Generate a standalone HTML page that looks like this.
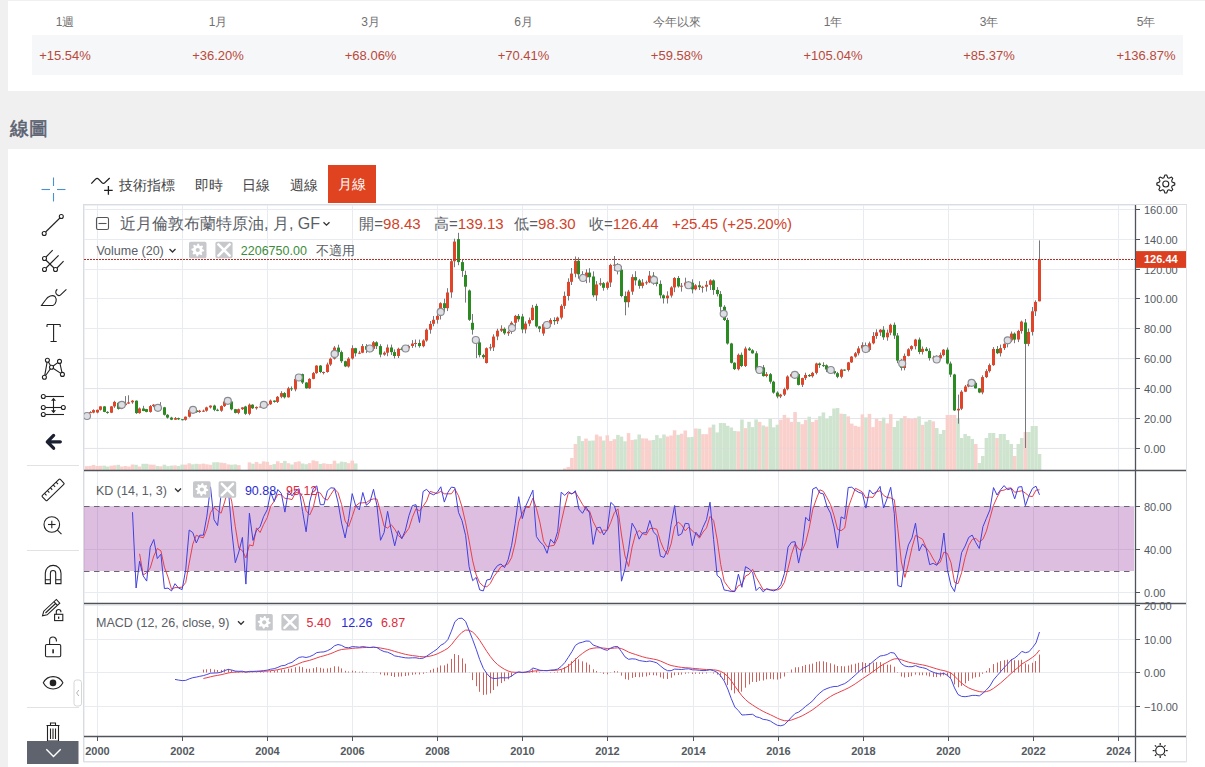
<!DOCTYPE html>
<html><head><meta charset="utf-8">
<style>
*{box-sizing:border-box}
html,body{margin:0;padding:0}
body{width:1205px;height:767px;overflow:hidden;background:#f0f0f0;position:relative;font-family:"Liberation Sans",sans-serif;}
.p1{position:absolute;left:8px;top:1px;width:1197px;height:90px;background:#fff}
.row{position:absolute;left:32px;top:35px;width:1151px;height:40px;background:#f6f7f9}
.h{position:absolute;top:14px;width:120px;margin-left:-60px;text-align:center;font-size:12px;color:#707070;line-height:16px}
.v{position:absolute;top:47px;width:120px;margin-left:-60px;text-align:center;font-size:13px;color:#b9493a;line-height:18px}
.ttl{position:absolute;left:9.5px;top:115.5px;font-size:19px;font-weight:400;color:#5a6170;-webkit-text-stroke:0.55px #5a6170;line-height:26px;letter-spacing:0px}
.p2{position:absolute;left:8px;top:149px;width:1197px;height:618px;background:#fff}
.tb{position:absolute;top:175px;font-size:14px;color:#444;line-height:20px}
.act{position:absolute;left:328px;top:165px;width:48px;height:38px;background:#e0431f;color:#fff;font-size:14px;line-height:38px;text-align:center}
svg{position:absolute;left:0;top:0}
.lg{position:absolute;white-space:nowrap;line-height:20px}
</style></head><body>
<div class="p1"></div>
<div class="row"></div>
<div class="h" style="left:65px">1週</div><div class="v" style="left:65px">+15.54%</div>
<div class="h" style="left:218px">1月</div><div class="v" style="left:218px">+36.20%</div>
<div class="h" style="left:370.6px">3月</div><div class="v" style="left:370.6px">+68.06%</div>
<div class="h" style="left:523.5px">6月</div><div class="v" style="left:523.5px">+70.41%</div>
<div class="h" style="left:676.7px">今年以來</div><div class="v" style="left:676.7px">+59.58%</div>
<div class="h" style="left:833px">1年</div><div class="v" style="left:833px">+105.04%</div>
<div class="h" style="left:989px">3年</div><div class="v" style="left:989px">+85.37%</div>
<div class="h" style="left:1146px">5年</div><div class="v" style="left:1146px">+136.87%</div>

<div class="ttl">線圖</div>
<div class="p2"></div>
<div class="tb" style="left:119px">技術指標</div>
<div class="tb" style="left:195px">即時</div>
<div class="tb" style="left:242px">日線</div>
<div class="tb" style="left:290px">週線</div>
<div class="act">月線</div>
<svg width="1205" height="767" viewBox="0 0 1205 767" shape-rendering="auto">
<rect x="84" y="205" width="1102" height="557" fill="#fff" stroke="#dfe2e8" stroke-width="1"/>
<line x1="97.5" y1="205" x2="97.5" y2="736" stroke="#e8ebf0" stroke-width="1"/>
<line x1="182.5" y1="205" x2="182.5" y2="736" stroke="#e8ebf0" stroke-width="1"/>
<line x1="267.5" y1="205" x2="267.5" y2="736" stroke="#e8ebf0" stroke-width="1"/>
<line x1="352.5" y1="205" x2="352.5" y2="736" stroke="#e8ebf0" stroke-width="1"/>
<line x1="437.5" y1="205" x2="437.5" y2="736" stroke="#e8ebf0" stroke-width="1"/>
<line x1="522.5" y1="205" x2="522.5" y2="736" stroke="#e8ebf0" stroke-width="1"/>
<line x1="607.5" y1="205" x2="607.5" y2="736" stroke="#e8ebf0" stroke-width="1"/>
<line x1="693.5" y1="205" x2="693.5" y2="736" stroke="#e8ebf0" stroke-width="1"/>
<line x1="778.5" y1="205" x2="778.5" y2="736" stroke="#e8ebf0" stroke-width="1"/>
<line x1="863.5" y1="205" x2="863.5" y2="736" stroke="#e8ebf0" stroke-width="1"/>
<line x1="948.5" y1="205" x2="948.5" y2="736" stroke="#e8ebf0" stroke-width="1"/>
<line x1="1033.5" y1="205" x2="1033.5" y2="736" stroke="#e8ebf0" stroke-width="1"/>
<line x1="1118.5" y1="205" x2="1118.5" y2="736" stroke="#e8ebf0" stroke-width="1"/>
<line x1="84" y1="448.5" x2="1135" y2="448.5" stroke="#e8ebf0" stroke-width="1"/>
<line x1="84" y1="418.5" x2="1135" y2="418.5" stroke="#e8ebf0" stroke-width="1"/>
<line x1="84" y1="388.5" x2="1135" y2="388.5" stroke="#e8ebf0" stroke-width="1"/>
<line x1="84" y1="358.5" x2="1135" y2="358.5" stroke="#e8ebf0" stroke-width="1"/>
<line x1="84" y1="328.5" x2="1135" y2="328.5" stroke="#e8ebf0" stroke-width="1"/>
<line x1="84" y1="298.5" x2="1135" y2="298.5" stroke="#e8ebf0" stroke-width="1"/>
<line x1="84" y1="269.5" x2="1135" y2="269.5" stroke="#e8ebf0" stroke-width="1"/>
<line x1="84" y1="239.5" x2="1135" y2="239.5" stroke="#e8ebf0" stroke-width="1"/>
<line x1="84" y1="209.5" x2="1135" y2="209.5" stroke="#e8ebf0" stroke-width="1"/>
<line x1="84" y1="506.5" x2="1135" y2="506.5" stroke="#e8ebf0" stroke-width="1"/>
<line x1="84" y1="549.5" x2="1135" y2="549.5" stroke="#e8ebf0" stroke-width="1"/>
<line x1="84" y1="592.5" x2="1135" y2="592.5" stroke="#e8ebf0" stroke-width="1"/>
<rect x="84" y="506.5" width="1050" height="64.5" fill="rgb(152,52,158)" fill-opacity="0.32"/>
<line x1="84" y1="506.5" x2="1134" y2="506.5" stroke="#6b6472" stroke-width="1" stroke-dasharray="5.5,4.5"/>
<line x1="84" y1="571.5" x2="1134" y2="571.5" stroke="#6b6472" stroke-width="1" stroke-dasharray="5.5,4.5"/>
<line x1="84" y1="605.5" x2="1135" y2="605.5" stroke="#e8ebf0" stroke-width="1"/>
<line x1="84" y1="639.5" x2="1135" y2="639.5" stroke="#e8ebf0" stroke-width="1"/>
<line x1="84" y1="672.5" x2="1135" y2="672.5" stroke="#e8ebf0" stroke-width="1"/>
<line x1="84" y1="706.5" x2="1135" y2="706.5" stroke="#e8ebf0" stroke-width="1"/>
<rect x="84.69" y="466.2" width="3.56" height="3.8" fill="#f9d0cb"/>
<rect x="88.23" y="465.9" width="3.56" height="4.1" fill="#f9d0cb"/>
<rect x="91.78" y="465.0" width="3.56" height="5.0" fill="#f9d0cb"/>
<rect x="95.32" y="466.0" width="3.56" height="4.0" fill="#f9d0cb"/>
<rect x="98.86" y="465.8" width="3.56" height="4.2" fill="#f9d0cb"/>
<rect x="102.41" y="465.6" width="3.56" height="4.4" fill="#cfe4cf"/>
<rect x="105.95" y="466.5" width="3.56" height="3.5" fill="#cfe4cf"/>
<rect x="109.49" y="465.7" width="3.56" height="4.3" fill="#f9d0cb"/>
<rect x="113.03" y="465.3" width="3.56" height="4.7" fill="#f9d0cb"/>
<rect x="116.58" y="464.8" width="3.56" height="5.2" fill="#cfe4cf"/>
<rect x="120.12" y="466.5" width="3.56" height="3.5" fill="#f9d0cb"/>
<rect x="123.66" y="466.0" width="3.56" height="4.0" fill="#f9d0cb"/>
<rect x="127.21" y="466.5" width="3.56" height="3.5" fill="#f9d0cb"/>
<rect x="130.75" y="464.5" width="3.56" height="5.5" fill="#f9d0cb"/>
<rect x="134.29" y="464.8" width="3.56" height="5.2" fill="#cfe4cf"/>
<rect x="137.84" y="466.5" width="3.56" height="3.5" fill="#f9d0cb"/>
<rect x="141.38" y="463.8" width="3.56" height="6.2" fill="#cfe4cf"/>
<rect x="144.92" y="463.8" width="3.56" height="6.2" fill="#cfe4cf"/>
<rect x="148.47" y="464.6" width="3.56" height="5.4" fill="#f9d0cb"/>
<rect x="152.01" y="464.7" width="3.56" height="5.3" fill="#f9d0cb"/>
<rect x="155.55" y="465.9" width="3.56" height="4.1" fill="#cfe4cf"/>
<rect x="159.09" y="466.3" width="3.56" height="3.7" fill="#f9d0cb"/>
<rect x="162.64" y="464.7" width="3.56" height="5.3" fill="#cfe4cf"/>
<rect x="166.18" y="466.1" width="3.56" height="3.9" fill="#cfe4cf"/>
<rect x="169.72" y="465.6" width="3.56" height="4.4" fill="#cfe4cf"/>
<rect x="173.27" y="465.4" width="3.56" height="4.6" fill="#f9d0cb"/>
<rect x="176.81" y="466.0" width="3.56" height="4.0" fill="#cfe4cf"/>
<rect x="180.35" y="464.6" width="3.56" height="5.4" fill="#cfe4cf"/>
<rect x="183.90" y="464.6" width="3.56" height="5.4" fill="#f9d0cb"/>
<rect x="187.44" y="463.3" width="3.56" height="6.7" fill="#f9d0cb"/>
<rect x="190.98" y="464.3" width="3.56" height="5.7" fill="#cfe4cf"/>
<rect x="194.52" y="463.8" width="3.56" height="6.2" fill="#cfe4cf"/>
<rect x="198.07" y="464.2" width="3.56" height="5.8" fill="#f9d0cb"/>
<rect x="201.61" y="463.6" width="3.56" height="6.4" fill="#f9d0cb"/>
<rect x="205.15" y="464.3" width="3.56" height="5.7" fill="#f9d0cb"/>
<rect x="208.70" y="464.8" width="3.56" height="5.2" fill="#f9d0cb"/>
<rect x="212.24" y="462.3" width="3.56" height="7.7" fill="#cfe4cf"/>
<rect x="215.78" y="462.2" width="3.56" height="7.8" fill="#cfe4cf"/>
<rect x="219.33" y="462.7" width="3.56" height="7.3" fill="#f9d0cb"/>
<rect x="222.87" y="463.1" width="3.56" height="6.9" fill="#f9d0cb"/>
<rect x="226.41" y="464.4" width="3.56" height="5.6" fill="#f9d0cb"/>
<rect x="229.95" y="464.7" width="3.56" height="5.3" fill="#cfe4cf"/>
<rect x="233.50" y="464.4" width="3.56" height="5.6" fill="#cfe4cf"/>
<rect x="237.04" y="465.1" width="3.56" height="4.9" fill="#f9d0cb"/>
<rect x="247.67" y="462.4" width="3.56" height="7.6" fill="#f9d0cb"/>
<rect x="251.21" y="463.7" width="3.56" height="6.3" fill="#cfe4cf"/>
<rect x="254.75" y="462.0" width="3.56" height="8.0" fill="#f9d0cb"/>
<rect x="258.30" y="463.7" width="3.56" height="6.3" fill="#f9d0cb"/>
<rect x="261.84" y="461.4" width="3.56" height="8.6" fill="#f9d0cb"/>
<rect x="265.38" y="461.8" width="3.56" height="8.2" fill="#f9d0cb"/>
<rect x="268.93" y="465.0" width="3.56" height="5.0" fill="#f9d0cb"/>
<rect x="272.47" y="464.1" width="3.56" height="5.9" fill="#cfe4cf"/>
<rect x="276.01" y="461.3" width="3.56" height="8.7" fill="#f9d0cb"/>
<rect x="279.56" y="463.0" width="3.56" height="7.0" fill="#f9d0cb"/>
<rect x="283.10" y="460.9" width="3.56" height="9.1" fill="#cfe4cf"/>
<rect x="286.64" y="463.2" width="3.56" height="6.8" fill="#f9d0cb"/>
<rect x="290.19" y="464.5" width="3.56" height="5.5" fill="#cfe4cf"/>
<rect x="293.73" y="462.1" width="3.56" height="7.9" fill="#f9d0cb"/>
<rect x="297.27" y="461.4" width="3.56" height="8.6" fill="#f9d0cb"/>
<rect x="300.81" y="463.5" width="3.56" height="6.5" fill="#cfe4cf"/>
<rect x="304.36" y="464.2" width="3.56" height="5.8" fill="#cfe4cf"/>
<rect x="307.90" y="463.1" width="3.56" height="6.9" fill="#f9d0cb"/>
<rect x="311.44" y="460.4" width="3.56" height="9.6" fill="#f9d0cb"/>
<rect x="314.99" y="461.2" width="3.56" height="8.8" fill="#f9d0cb"/>
<rect x="318.53" y="463.9" width="3.56" height="6.1" fill="#cfe4cf"/>
<rect x="322.07" y="463.3" width="3.56" height="6.7" fill="#f9d0cb"/>
<rect x="325.62" y="463.9" width="3.56" height="6.1" fill="#f9d0cb"/>
<rect x="329.16" y="464.0" width="3.56" height="6.0" fill="#f9d0cb"/>
<rect x="332.70" y="460.7" width="3.56" height="9.3" fill="#f9d0cb"/>
<rect x="336.24" y="463.4" width="3.56" height="6.6" fill="#cfe4cf"/>
<rect x="339.79" y="461.6" width="3.56" height="8.4" fill="#cfe4cf"/>
<rect x="343.33" y="462.1" width="3.56" height="7.9" fill="#cfe4cf"/>
<rect x="346.87" y="463.2" width="3.56" height="6.8" fill="#f9d0cb"/>
<rect x="350.42" y="460.6" width="3.56" height="9.4" fill="#f9d0cb"/>
<rect x="353.96" y="463.4" width="3.56" height="6.6" fill="#cfe4cf"/>
<rect x="563.00" y="468.5" width="3.56" height="1.5" fill="#f9d0cb"/>
<rect x="566.54" y="467.0" width="3.56" height="3.0" fill="#f9d0cb"/>
<rect x="570.08" y="458.0" width="3.56" height="12.0" fill="#f9d0cb"/>
<rect x="573.62" y="444.0" width="3.56" height="26.0" fill="#f9d0cb"/>
<rect x="577.17" y="436.0" width="3.56" height="34.0" fill="#cfe4cf"/>
<rect x="580.71" y="441.1" width="3.56" height="28.9" fill="#cfe4cf"/>
<rect x="584.25" y="438.6" width="3.56" height="31.4" fill="#f9d0cb"/>
<rect x="587.80" y="440.7" width="3.56" height="29.3" fill="#cfe4cf"/>
<rect x="591.34" y="440.5" width="3.56" height="29.5" fill="#cfe4cf"/>
<rect x="594.88" y="434.6" width="3.56" height="35.4" fill="#f9d0cb"/>
<rect x="598.43" y="436.4" width="3.56" height="33.6" fill="#f9d0cb"/>
<rect x="601.97" y="440.5" width="3.56" height="29.5" fill="#cfe4cf"/>
<rect x="605.51" y="435.3" width="3.56" height="34.7" fill="#f9d0cb"/>
<rect x="609.06" y="441.0" width="3.56" height="29.0" fill="#f9d0cb"/>
<rect x="612.60" y="439.2" width="3.56" height="30.8" fill="#f9d0cb"/>
<rect x="616.14" y="434.9" width="3.56" height="35.1" fill="#cfe4cf"/>
<rect x="619.68" y="436.6" width="3.56" height="33.4" fill="#cfe4cf"/>
<rect x="623.23" y="441.3" width="3.56" height="28.7" fill="#cfe4cf"/>
<rect x="626.77" y="433.1" width="3.56" height="36.9" fill="#f9d0cb"/>
<rect x="630.31" y="440.0" width="3.56" height="30.0" fill="#f9d0cb"/>
<rect x="633.86" y="439.4" width="3.56" height="30.6" fill="#cfe4cf"/>
<rect x="637.40" y="434.5" width="3.56" height="35.5" fill="#cfe4cf"/>
<rect x="640.94" y="438.4" width="3.56" height="31.6" fill="#f9d0cb"/>
<rect x="644.49" y="438.5" width="3.56" height="31.5" fill="#f9d0cb"/>
<rect x="648.03" y="440.4" width="3.56" height="29.6" fill="#f9d0cb"/>
<rect x="651.57" y="440.0" width="3.56" height="30.0" fill="#cfe4cf"/>
<rect x="655.11" y="435.1" width="3.56" height="34.9" fill="#cfe4cf"/>
<rect x="658.66" y="438.2" width="3.56" height="31.8" fill="#cfe4cf"/>
<rect x="662.20" y="434.5" width="3.56" height="35.5" fill="#cfe4cf"/>
<rect x="665.74" y="436.5" width="3.56" height="33.5" fill="#f9d0cb"/>
<rect x="669.29" y="435.5" width="3.56" height="34.5" fill="#f9d0cb"/>
<rect x="672.83" y="430.3" width="3.56" height="39.7" fill="#f9d0cb"/>
<rect x="676.37" y="434.8" width="3.56" height="35.2" fill="#cfe4cf"/>
<rect x="679.92" y="433.7" width="3.56" height="36.3" fill="#f9d0cb"/>
<rect x="683.46" y="430.5" width="3.56" height="39.5" fill="#f9d0cb"/>
<rect x="687.00" y="437.2" width="3.56" height="32.8" fill="#cfe4cf"/>
<rect x="690.54" y="436.9" width="3.56" height="33.1" fill="#cfe4cf"/>
<rect x="694.09" y="428.5" width="3.56" height="41.5" fill="#f9d0cb"/>
<rect x="697.63" y="428.7" width="3.56" height="41.3" fill="#cfe4cf"/>
<rect x="701.17" y="434.2" width="3.56" height="35.8" fill="#f9d0cb"/>
<rect x="704.72" y="434.2" width="3.56" height="35.8" fill="#f9d0cb"/>
<rect x="708.26" y="427.5" width="3.56" height="42.5" fill="#f9d0cb"/>
<rect x="711.80" y="424.6" width="3.56" height="45.4" fill="#cfe4cf"/>
<rect x="715.35" y="432.4" width="3.56" height="37.6" fill="#cfe4cf"/>
<rect x="718.89" y="423.0" width="3.56" height="47.0" fill="#cfe4cf"/>
<rect x="722.43" y="423.1" width="3.56" height="46.9" fill="#cfe4cf"/>
<rect x="725.97" y="425.8" width="3.56" height="44.2" fill="#cfe4cf"/>
<rect x="729.52" y="427.5" width="3.56" height="42.5" fill="#cfe4cf"/>
<rect x="733.06" y="431.0" width="3.56" height="39.0" fill="#cfe4cf"/>
<rect x="736.60" y="431.4" width="3.56" height="38.6" fill="#f9d0cb"/>
<rect x="740.15" y="419.5" width="3.56" height="50.5" fill="#cfe4cf"/>
<rect x="743.69" y="428.2" width="3.56" height="41.8" fill="#f9d0cb"/>
<rect x="747.23" y="421.8" width="3.56" height="48.2" fill="#cfe4cf"/>
<rect x="750.78" y="427.1" width="3.56" height="42.9" fill="#cfe4cf"/>
<rect x="754.32" y="419.4" width="3.56" height="50.6" fill="#cfe4cf"/>
<rect x="757.86" y="421.9" width="3.56" height="48.1" fill="#f9d0cb"/>
<rect x="761.40" y="425.4" width="3.56" height="44.6" fill="#cfe4cf"/>
<rect x="764.95" y="426.6" width="3.56" height="43.4" fill="#f9d0cb"/>
<rect x="768.49" y="418.9" width="3.56" height="51.1" fill="#cfe4cf"/>
<rect x="772.03" y="427.3" width="3.56" height="42.7" fill="#cfe4cf"/>
<rect x="775.58" y="424.7" width="3.56" height="45.3" fill="#cfe4cf"/>
<rect x="779.12" y="419.6" width="3.56" height="50.4" fill="#f9d0cb"/>
<rect x="782.66" y="414.9" width="3.56" height="55.1" fill="#f9d0cb"/>
<rect x="786.21" y="417.7" width="3.56" height="52.3" fill="#f9d0cb"/>
<rect x="789.75" y="421.9" width="3.56" height="48.1" fill="#f9d0cb"/>
<rect x="793.29" y="412.1" width="3.56" height="57.9" fill="#f9d0cb"/>
<rect x="796.83" y="421.9" width="3.56" height="48.1" fill="#cfe4cf"/>
<rect x="800.38" y="424.2" width="3.56" height="45.8" fill="#f9d0cb"/>
<rect x="803.92" y="419.9" width="3.56" height="50.1" fill="#f9d0cb"/>
<rect x="807.46" y="416.7" width="3.56" height="53.3" fill="#cfe4cf"/>
<rect x="811.01" y="422.0" width="3.56" height="48.0" fill="#f9d0cb"/>
<rect x="814.55" y="419.7" width="3.56" height="50.3" fill="#f9d0cb"/>
<rect x="818.09" y="416.2" width="3.56" height="53.8" fill="#cfe4cf"/>
<rect x="821.64" y="412.4" width="3.56" height="57.6" fill="#cfe4cf"/>
<rect x="825.18" y="418.9" width="3.56" height="51.1" fill="#cfe4cf"/>
<rect x="828.72" y="415.9" width="3.56" height="54.1" fill="#cfe4cf"/>
<rect x="832.26" y="408.5" width="3.56" height="61.5" fill="#cfe4cf"/>
<rect x="835.81" y="408.0" width="3.56" height="62.0" fill="#cfe4cf"/>
<rect x="839.35" y="413.7" width="3.56" height="56.3" fill="#f9d0cb"/>
<rect x="842.89" y="414.0" width="3.56" height="56.0" fill="#cfe4cf"/>
<rect x="846.44" y="416.4" width="3.56" height="53.6" fill="#f9d0cb"/>
<rect x="849.98" y="423.6" width="3.56" height="46.4" fill="#f9d0cb"/>
<rect x="853.52" y="425.8" width="3.56" height="44.2" fill="#f9d0cb"/>
<rect x="857.07" y="426.7" width="3.56" height="43.3" fill="#f9d0cb"/>
<rect x="860.61" y="414.4" width="3.56" height="55.6" fill="#f9d0cb"/>
<rect x="864.15" y="417.4" width="3.56" height="52.6" fill="#cfe4cf"/>
<rect x="867.69" y="413.9" width="3.56" height="56.1" fill="#f9d0cb"/>
<rect x="871.24" y="427.1" width="3.56" height="42.9" fill="#f9d0cb"/>
<rect x="874.78" y="418.7" width="3.56" height="51.3" fill="#f9d0cb"/>
<rect x="878.32" y="421.0" width="3.56" height="49.0" fill="#f9d0cb"/>
<rect x="881.87" y="417.6" width="3.56" height="52.4" fill="#cfe4cf"/>
<rect x="885.41" y="423.4" width="3.56" height="46.6" fill="#f9d0cb"/>
<rect x="888.95" y="414.2" width="3.56" height="55.8" fill="#f9d0cb"/>
<rect x="892.50" y="427.0" width="3.56" height="43.0" fill="#cfe4cf"/>
<rect x="896.04" y="420.7" width="3.56" height="49.3" fill="#cfe4cf"/>
<rect x="899.58" y="418.2" width="3.56" height="51.8" fill="#cfe4cf"/>
<rect x="903.12" y="416.1" width="3.56" height="53.9" fill="#f9d0cb"/>
<rect x="906.67" y="418.4" width="3.56" height="51.6" fill="#f9d0cb"/>
<rect x="910.21" y="419.0" width="3.56" height="51.0" fill="#f9d0cb"/>
<rect x="913.75" y="417.9" width="3.56" height="52.1" fill="#f9d0cb"/>
<rect x="917.30" y="416.4" width="3.56" height="53.6" fill="#cfe4cf"/>
<rect x="920.84" y="424.9" width="3.56" height="45.1" fill="#f9d0cb"/>
<rect x="924.38" y="421.6" width="3.56" height="48.4" fill="#cfe4cf"/>
<rect x="927.93" y="419.9" width="3.56" height="50.1" fill="#cfe4cf"/>
<rect x="931.47" y="421.4" width="3.56" height="48.6" fill="#f9d0cb"/>
<rect x="935.01" y="428.0" width="3.56" height="42.0" fill="#cfe4cf"/>
<rect x="938.55" y="434.0" width="3.56" height="36.0" fill="#cfe4cf"/>
<rect x="942.10" y="430.0" width="3.56" height="40.0" fill="#cfe4cf"/>
<rect x="945.64" y="415.0" width="3.56" height="55.0" fill="#f9d0cb"/>
<rect x="949.18" y="415.0" width="3.56" height="55.0" fill="#f9d0cb"/>
<rect x="952.73" y="415.0" width="3.56" height="55.0" fill="#f9d0cb"/>
<rect x="956.27" y="418.0" width="3.56" height="52.0" fill="#cfe4cf"/>
<rect x="959.81" y="438.0" width="3.56" height="32.0" fill="#cfe4cf"/>
<rect x="963.36" y="434.0" width="3.56" height="36.0" fill="#cfe4cf"/>
<rect x="966.90" y="436.0" width="3.56" height="34.0" fill="#cfe4cf"/>
<rect x="970.44" y="439.0" width="3.56" height="31.0" fill="#cfe4cf"/>
<rect x="973.98" y="444.0" width="3.56" height="26.0" fill="#f9d0cb"/>
<rect x="977.53" y="463.0" width="3.56" height="7.0" fill="#cfe4cf"/>
<rect x="981.07" y="456.0" width="3.56" height="14.0" fill="#cfe4cf"/>
<rect x="984.61" y="438.0" width="3.56" height="32.0" fill="#cfe4cf"/>
<rect x="988.16" y="433.0" width="3.56" height="37.0" fill="#cfe4cf"/>
<rect x="991.70" y="433.0" width="3.56" height="37.0" fill="#cfe4cf"/>
<rect x="995.24" y="438.0" width="3.56" height="32.0" fill="#f9d0cb"/>
<rect x="998.79" y="434.0" width="3.56" height="36.0" fill="#cfe4cf"/>
<rect x="1002.33" y="434.0" width="3.56" height="36.0" fill="#cfe4cf"/>
<rect x="1005.87" y="440.0" width="3.56" height="30.0" fill="#cfe4cf"/>
<rect x="1009.41" y="444.0" width="3.56" height="26.0" fill="#cfe4cf"/>
<rect x="1012.96" y="456.0" width="3.56" height="14.0" fill="#f9d0cb"/>
<rect x="1016.50" y="444.0" width="3.56" height="26.0" fill="#cfe4cf"/>
<rect x="1020.04" y="438.0" width="3.56" height="32.0" fill="#cfe4cf"/>
<rect x="1023.59" y="432.0" width="3.56" height="38.0" fill="#f9d0cb"/>
<rect x="1027.13" y="432.0" width="3.56" height="38.0" fill="#cfe4cf"/>
<rect x="1030.67" y="426.0" width="3.56" height="44.0" fill="#cfe4cf"/>
<rect x="1034.22" y="426.0" width="3.56" height="44.0" fill="#cfe4cf"/>
<rect x="1037.76" y="454.0" width="3.56" height="16.0" fill="#cfe4cf"/>
<line x1="84" y1="448.4" x2="1135" y2="448.4" stroke="#d8dbe2" stroke-width="1" opacity="0.35"/>
<line x1="84" y1="418.5" x2="1135" y2="418.5" stroke="#d8dbe2" stroke-width="1" opacity="0.35"/>
<line x1="84" y1="388.6" x2="1135" y2="388.6" stroke="#d8dbe2" stroke-width="1" opacity="0.35"/>
<line x1="84" y1="358.7" x2="1135" y2="358.7" stroke="#d8dbe2" stroke-width="1" opacity="0.35"/>
<line x1="86.5" y1="415.2" x2="86.5" y2="416.6" stroke="#76787e" stroke-width="1"/>
<rect x="85" y="415.7" width="3" height="1.0" fill="#e0452a"/>
<line x1="90.5" y1="411.2" x2="90.5" y2="412.7" stroke="#76787e" stroke-width="1"/>
<rect x="89" y="412.1" width="3" height="1.0" fill="#e0452a"/>
<line x1="93.5" y1="409.3" x2="93.5" y2="413.3" stroke="#76787e" stroke-width="1"/>
<rect x="92" y="410.1" width="3" height="2.5" fill="#e0452a"/>
<line x1="97.5" y1="409.6" x2="97.5" y2="413.3" stroke="#76787e" stroke-width="1"/>
<rect x="96" y="409.8" width="3" height="2.7" fill="#e0452a"/>
<line x1="100.5" y1="406.2" x2="100.5" y2="410.6" stroke="#76787e" stroke-width="1"/>
<rect x="99" y="406.4" width="3" height="3.4" fill="#e0452a"/>
<line x1="104.5" y1="406.2" x2="104.5" y2="412.2" stroke="#76787e" stroke-width="1"/>
<rect x="103" y="406.4" width="3" height="5.5" fill="#2b8a22"/>
<line x1="107.5" y1="411.3" x2="107.5" y2="413.7" stroke="#76787e" stroke-width="1"/>
<rect x="106" y="411.9" width="3" height="1.0" fill="#2b8a22"/>
<line x1="111.5" y1="406.1" x2="111.5" y2="413.1" stroke="#76787e" stroke-width="1"/>
<rect x="110" y="406.4" width="3" height="6.3" fill="#e0452a"/>
<line x1="114.5" y1="400.8" x2="114.5" y2="407.9" stroke="#76787e" stroke-width="1"/>
<rect x="113" y="401.9" width="3" height="4.5" fill="#e0452a"/>
<line x1="118.5" y1="401.9" x2="118.5" y2="409.6" stroke="#76787e" stroke-width="1"/>
<rect x="117" y="402.8" width="3" height="6.1" fill="#2b8a22"/>
<line x1="121.5" y1="403.7" x2="121.5" y2="409.2" stroke="#76787e" stroke-width="1"/>
<rect x="120" y="405.2" width="3" height="3.7" fill="#e0452a"/>
<line x1="125.5" y1="396.1" x2="125.5" y2="405.8" stroke="#76787e" stroke-width="1"/>
<rect x="124" y="403.5" width="3" height="1.6" fill="#e0452a"/>
<line x1="128.5" y1="395.3" x2="128.5" y2="403.9" stroke="#76787e" stroke-width="1"/>
<rect x="127" y="402.4" width="3" height="1.2" fill="#e0452a"/>
<line x1="132.5" y1="400.1" x2="132.5" y2="403.8" stroke="#76787e" stroke-width="1"/>
<rect x="131" y="400.7" width="3" height="1.6" fill="#e0452a"/>
<line x1="136.5" y1="400.4" x2="136.5" y2="413.9" stroke="#76787e" stroke-width="1"/>
<rect x="135" y="400.7" width="3" height="12.4" fill="#2b8a22"/>
<line x1="139.5" y1="407.5" x2="139.5" y2="413.7" stroke="#76787e" stroke-width="1"/>
<rect x="138" y="408.5" width="3" height="4.6" fill="#e0452a"/>
<line x1="143.5" y1="405.8" x2="143.5" y2="411.2" stroke="#76787e" stroke-width="1"/>
<rect x="142" y="408.5" width="3" height="2.5" fill="#2b8a22"/>
<line x1="146.5" y1="408.9" x2="146.5" y2="412.3" stroke="#76787e" stroke-width="1"/>
<rect x="145" y="409.1" width="3" height="2.8" fill="#2b8a22"/>
<line x1="150.5" y1="405.0" x2="150.5" y2="412.7" stroke="#76787e" stroke-width="1"/>
<rect x="149" y="406.1" width="3" height="5.8" fill="#e0452a"/>
<line x1="153.5" y1="404.1" x2="153.5" y2="407.1" stroke="#76787e" stroke-width="1"/>
<rect x="152" y="404.7" width="3" height="1.3" fill="#e0452a"/>
<line x1="157.5" y1="404.0" x2="157.5" y2="408.6" stroke="#76787e" stroke-width="1"/>
<rect x="156" y="404.7" width="3" height="3.3" fill="#2b8a22"/>
<line x1="160.5" y1="402.1" x2="160.5" y2="410.3" stroke="#76787e" stroke-width="1"/>
<rect x="159" y="407.3" width="3" height="1.9" fill="#e0452a"/>
<line x1="164.5" y1="406.9" x2="164.5" y2="415.5" stroke="#76787e" stroke-width="1"/>
<rect x="163" y="407.3" width="3" height="7.5" fill="#2b8a22"/>
<line x1="167.5" y1="414.1" x2="167.5" y2="418.6" stroke="#76787e" stroke-width="1"/>
<rect x="166" y="414.8" width="3" height="2.8" fill="#2b8a22"/>
<line x1="171.5" y1="416.8" x2="171.5" y2="420.1" stroke="#76787e" stroke-width="1"/>
<rect x="170" y="417.6" width="3" height="2.1" fill="#2b8a22"/>
<line x1="175.5" y1="417.0" x2="175.5" y2="419.9" stroke="#76787e" stroke-width="1"/>
<rect x="174" y="418.1" width="3" height="1.6" fill="#e0452a"/>
<line x1="178.5" y1="417.6" x2="178.5" y2="420.0" stroke="#76787e" stroke-width="1"/>
<rect x="177" y="418.1" width="3" height="1.2" fill="#2b8a22"/>
<line x1="182.5" y1="419.0" x2="182.5" y2="420.4" stroke="#76787e" stroke-width="1"/>
<rect x="181" y="419.2" width="3" height="1.0" fill="#2b8a22"/>
<line x1="185.5" y1="416.5" x2="185.5" y2="420.6" stroke="#76787e" stroke-width="1"/>
<rect x="184" y="416.7" width="3" height="3.1" fill="#e0452a"/>
<line x1="189.5" y1="408.8" x2="189.5" y2="417.5" stroke="#76787e" stroke-width="1"/>
<rect x="188" y="409.8" width="3" height="6.9" fill="#e0452a"/>
<line x1="192.5" y1="408.6" x2="192.5" y2="410.8" stroke="#76787e" stroke-width="1"/>
<rect x="191" y="409.8" width="3" height="1.0" fill="#2b8a22"/>
<line x1="196.5" y1="409.3" x2="196.5" y2="412.9" stroke="#76787e" stroke-width="1"/>
<rect x="195" y="410.3" width="3" height="1.8" fill="#2b8a22"/>
<line x1="199.5" y1="409.9" x2="199.5" y2="412.8" stroke="#76787e" stroke-width="1"/>
<rect x="198" y="410.7" width="3" height="1.3" fill="#e0452a"/>
<line x1="203.5" y1="409.6" x2="203.5" y2="412.0" stroke="#76787e" stroke-width="1"/>
<rect x="202" y="410.7" width="3" height="1.0" fill="#e0452a"/>
<line x1="206.5" y1="406.7" x2="206.5" y2="411.7" stroke="#76787e" stroke-width="1"/>
<rect x="205" y="407.4" width="3" height="3.3" fill="#e0452a"/>
<line x1="210.5" y1="405.4" x2="210.5" y2="408.5" stroke="#76787e" stroke-width="1"/>
<rect x="209" y="405.6" width="3" height="1.8" fill="#e0452a"/>
<line x1="214.5" y1="404.7" x2="214.5" y2="411.2" stroke="#76787e" stroke-width="1"/>
<rect x="213" y="405.6" width="3" height="4.2" fill="#2b8a22"/>
<line x1="217.5" y1="408.7" x2="217.5" y2="411.2" stroke="#76787e" stroke-width="1"/>
<rect x="216" y="409.8" width="3" height="1.0" fill="#2b8a22"/>
<line x1="221.5" y1="405.4" x2="221.5" y2="411.8" stroke="#76787e" stroke-width="1"/>
<rect x="220" y="406.1" width="3" height="4.6" fill="#e0452a"/>
<line x1="224.5" y1="401.2" x2="224.5" y2="407.0" stroke="#76787e" stroke-width="1"/>
<rect x="223" y="401.5" width="3" height="4.6" fill="#e0452a"/>
<line x1="228.5" y1="401.0" x2="228.5" y2="401.8" stroke="#76787e" stroke-width="1"/>
<rect x="227" y="401.5" width="3" height="1.0" fill="#e0452a"/>
<line x1="231.5" y1="401.2" x2="231.5" y2="410.3" stroke="#76787e" stroke-width="1"/>
<rect x="230" y="401.5" width="3" height="7.8" fill="#2b8a22"/>
<line x1="235.5" y1="408.9" x2="235.5" y2="413.4" stroke="#76787e" stroke-width="1"/>
<rect x="234" y="409.2" width="3" height="3.7" fill="#2b8a22"/>
<line x1="238.5" y1="408.6" x2="238.5" y2="414.2" stroke="#76787e" stroke-width="1"/>
<rect x="237" y="409.2" width="3" height="3.7" fill="#e0452a"/>
<line x1="242.5" y1="407.2" x2="242.5" y2="410.0" stroke="#76787e" stroke-width="1"/>
<rect x="241" y="407.4" width="3" height="1.8" fill="#e0452a"/>
<line x1="245.5" y1="405.8" x2="245.5" y2="414.9" stroke="#76787e" stroke-width="1"/>
<rect x="244" y="406.5" width="3" height="7.3" fill="#2b8a22"/>
<line x1="249.5" y1="403.5" x2="249.5" y2="415.2" stroke="#76787e" stroke-width="1"/>
<rect x="248" y="404.7" width="3" height="9.1" fill="#e0452a"/>
<line x1="252.5" y1="404.2" x2="252.5" y2="409.0" stroke="#76787e" stroke-width="1"/>
<rect x="251" y="404.7" width="3" height="3.6" fill="#2b8a22"/>
<line x1="256.5" y1="406.4" x2="256.5" y2="409.6" stroke="#76787e" stroke-width="1"/>
<rect x="255" y="407.0" width="3" height="1.3" fill="#e0452a"/>
<line x1="260.5" y1="405.1" x2="260.5" y2="407.4" stroke="#76787e" stroke-width="1"/>
<rect x="259" y="406.5" width="3" height="1.0" fill="#e0452a"/>
<line x1="263.5" y1="404.8" x2="263.5" y2="407.0" stroke="#76787e" stroke-width="1"/>
<rect x="262" y="405.2" width="3" height="1.3" fill="#e0452a"/>
<line x1="267.5" y1="403.8" x2="267.5" y2="406.0" stroke="#76787e" stroke-width="1"/>
<rect x="266" y="404.3" width="3" height="1.0" fill="#e0452a"/>
<line x1="270.5" y1="399.5" x2="270.5" y2="404.9" stroke="#76787e" stroke-width="1"/>
<rect x="269" y="400.6" width="3" height="3.7" fill="#e0452a"/>
<line x1="274.5" y1="400.4" x2="274.5" y2="402.7" stroke="#76787e" stroke-width="1"/>
<rect x="273" y="400.6" width="3" height="1.3" fill="#2b8a22"/>
<line x1="277.5" y1="396.0" x2="277.5" y2="403.0" stroke="#76787e" stroke-width="1"/>
<rect x="276" y="396.8" width="3" height="5.1" fill="#e0452a"/>
<line x1="281.5" y1="391.2" x2="281.5" y2="398.2" stroke="#76787e" stroke-width="1"/>
<rect x="280" y="393.1" width="3" height="3.7" fill="#e0452a"/>
<line x1="284.5" y1="392.1" x2="284.5" y2="398.5" stroke="#76787e" stroke-width="1"/>
<rect x="283" y="393.1" width="3" height="4.2" fill="#2b8a22"/>
<line x1="288.5" y1="386.8" x2="288.5" y2="397.6" stroke="#76787e" stroke-width="1"/>
<rect x="287" y="388.3" width="3" height="9.0" fill="#e0452a"/>
<line x1="291.5" y1="386.4" x2="291.5" y2="391.0" stroke="#76787e" stroke-width="1"/>
<rect x="290" y="388.3" width="3" height="1.0" fill="#2b8a22"/>
<line x1="295.5" y1="376.7" x2="295.5" y2="391.3" stroke="#76787e" stroke-width="1"/>
<rect x="294" y="378.9" width="3" height="10.5" fill="#e0452a"/>
<line x1="299.5" y1="376.1" x2="299.5" y2="380.0" stroke="#76787e" stroke-width="1"/>
<rect x="298" y="377.2" width="3" height="1.6" fill="#e0452a"/>
<line x1="302.5" y1="373.6" x2="302.5" y2="384.0" stroke="#76787e" stroke-width="1"/>
<rect x="301" y="374.1" width="3" height="8.4" fill="#2b8a22"/>
<line x1="306.5" y1="382.1" x2="306.5" y2="388.7" stroke="#76787e" stroke-width="1"/>
<rect x="305" y="382.5" width="3" height="5.8" fill="#2b8a22"/>
<line x1="309.5" y1="378.2" x2="309.5" y2="388.9" stroke="#76787e" stroke-width="1"/>
<rect x="308" y="378.9" width="3" height="9.4" fill="#e0452a"/>
<line x1="313.5" y1="372.0" x2="313.5" y2="379.3" stroke="#76787e" stroke-width="1"/>
<rect x="312" y="373.1" width="3" height="5.8" fill="#e0452a"/>
<line x1="316.5" y1="365.2" x2="316.5" y2="373.8" stroke="#76787e" stroke-width="1"/>
<rect x="315" y="365.6" width="3" height="7.5" fill="#e0452a"/>
<line x1="320.5" y1="365.0" x2="320.5" y2="373.2" stroke="#76787e" stroke-width="1"/>
<rect x="319" y="365.6" width="3" height="6.4" fill="#2b8a22"/>
<line x1="323.5" y1="371.6" x2="323.5" y2="374.4" stroke="#76787e" stroke-width="1"/>
<rect x="322" y="372.0" width="3" height="1.0" fill="#e0452a"/>
<line x1="327.5" y1="362.6" x2="327.5" y2="372.7" stroke="#76787e" stroke-width="1"/>
<rect x="326" y="364.5" width="3" height="7.5" fill="#e0452a"/>
<line x1="330.5" y1="357.6" x2="330.5" y2="365.9" stroke="#76787e" stroke-width="1"/>
<rect x="329" y="358.7" width="3" height="5.8" fill="#e0452a"/>
<line x1="334.5" y1="346.1" x2="334.5" y2="359.5" stroke="#76787e" stroke-width="1"/>
<rect x="333" y="347.6" width="3" height="11.1" fill="#e0452a"/>
<line x1="338.5" y1="344.7" x2="338.5" y2="355.5" stroke="#76787e" stroke-width="1"/>
<rect x="337" y="347.6" width="3" height="4.5" fill="#2b8a22"/>
<line x1="341.5" y1="350.5" x2="341.5" y2="362.9" stroke="#76787e" stroke-width="1"/>
<rect x="340" y="352.1" width="3" height="9.1" fill="#2b8a22"/>
<line x1="345.5" y1="360.7" x2="345.5" y2="367.1" stroke="#76787e" stroke-width="1"/>
<rect x="344" y="361.2" width="3" height="5.2" fill="#2b8a22"/>
<line x1="348.5" y1="357.2" x2="348.5" y2="367.6" stroke="#76787e" stroke-width="1"/>
<rect x="347" y="358.6" width="3" height="7.9" fill="#e0452a"/>
<line x1="352.5" y1="345.3" x2="352.5" y2="359.5" stroke="#76787e" stroke-width="1"/>
<rect x="351" y="348.2" width="3" height="10.3" fill="#e0452a"/>
<line x1="355.5" y1="347.8" x2="355.5" y2="356.5" stroke="#76787e" stroke-width="1"/>
<rect x="354" y="348.2" width="3" height="5.1" fill="#2b8a22"/>
<line x1="359.5" y1="350.8" x2="359.5" y2="354.1" stroke="#76787e" stroke-width="1"/>
<rect x="358" y="352.7" width="3" height="1.0" fill="#e0452a"/>
<line x1="362.5" y1="344.0" x2="362.5" y2="353.2" stroke="#76787e" stroke-width="1"/>
<rect x="361" y="346.1" width="3" height="6.6" fill="#e0452a"/>
<line x1="366.5" y1="344.1" x2="366.5" y2="353.1" stroke="#76787e" stroke-width="1"/>
<rect x="365" y="346.1" width="3" height="3.6" fill="#2b8a22"/>
<line x1="369.5" y1="345.8" x2="369.5" y2="352.3" stroke="#76787e" stroke-width="1"/>
<rect x="368" y="348.8" width="3" height="1.0" fill="#e0452a"/>
<line x1="373.5" y1="341.0" x2="373.5" y2="350.5" stroke="#76787e" stroke-width="1"/>
<rect x="372" y="342.3" width="3" height="6.6" fill="#e0452a"/>
<line x1="376.5" y1="341.3" x2="376.5" y2="349.0" stroke="#76787e" stroke-width="1"/>
<rect x="375" y="342.3" width="3" height="3.9" fill="#2b8a22"/>
<line x1="380.5" y1="344.2" x2="380.5" y2="357.3" stroke="#76787e" stroke-width="1"/>
<rect x="379" y="346.1" width="3" height="8.5" fill="#2b8a22"/>
<line x1="384.5" y1="351.4" x2="384.5" y2="355.7" stroke="#76787e" stroke-width="1"/>
<rect x="383" y="352.7" width="3" height="1.9" fill="#e0452a"/>
<line x1="387.5" y1="344.5" x2="387.5" y2="356.2" stroke="#76787e" stroke-width="1"/>
<rect x="386" y="347.5" width="3" height="5.2" fill="#e0452a"/>
<line x1="391.5" y1="344.6" x2="391.5" y2="354.9" stroke="#76787e" stroke-width="1"/>
<rect x="390" y="347.5" width="3" height="4.6" fill="#2b8a22"/>
<line x1="394.5" y1="349.4" x2="394.5" y2="358.5" stroke="#76787e" stroke-width="1"/>
<rect x="393" y="352.1" width="3" height="3.9" fill="#2b8a22"/>
<line x1="398.5" y1="347.7" x2="398.5" y2="358.0" stroke="#76787e" stroke-width="1"/>
<rect x="397" y="348.8" width="3" height="7.2" fill="#e0452a"/>
<line x1="401.5" y1="347.4" x2="401.5" y2="350.2" stroke="#76787e" stroke-width="1"/>
<rect x="400" y="348.8" width="3" height="1.0" fill="#2b8a22"/>
<line x1="405.5" y1="347.9" x2="405.5" y2="351.0" stroke="#76787e" stroke-width="1"/>
<rect x="404" y="348.4" width="3" height="1.3" fill="#e0452a"/>
<line x1="408.5" y1="344.8" x2="408.5" y2="351.0" stroke="#76787e" stroke-width="1"/>
<rect x="407" y="346.0" width="3" height="2.4" fill="#e0452a"/>
<line x1="412.5" y1="340.1" x2="412.5" y2="347.9" stroke="#76787e" stroke-width="1"/>
<rect x="411" y="343.6" width="3" height="2.4" fill="#e0452a"/>
<line x1="415.5" y1="339.5" x2="415.5" y2="347.3" stroke="#76787e" stroke-width="1"/>
<rect x="414" y="343.0" width="3" height="1.0" fill="#e0452a"/>
<line x1="419.5" y1="339.6" x2="419.5" y2="347.7" stroke="#76787e" stroke-width="1"/>
<rect x="418" y="343.0" width="3" height="3.1" fill="#2b8a22"/>
<line x1="423.5" y1="339.3" x2="423.5" y2="347.3" stroke="#76787e" stroke-width="1"/>
<rect x="422" y="340.5" width="3" height="5.7" fill="#e0452a"/>
<line x1="426.5" y1="328.5" x2="426.5" y2="341.7" stroke="#76787e" stroke-width="1"/>
<rect x="425" y="329.7" width="3" height="10.8" fill="#e0452a"/>
<line x1="430.5" y1="321.0" x2="430.5" y2="333.7" stroke="#76787e" stroke-width="1"/>
<rect x="429" y="323.9" width="3" height="5.8" fill="#e0452a"/>
<line x1="433.5" y1="316.0" x2="433.5" y2="326.3" stroke="#76787e" stroke-width="1"/>
<rect x="432" y="319.8" width="3" height="4.0" fill="#e0452a"/>
<line x1="437.5" y1="312.7" x2="437.5" y2="323.6" stroke="#76787e" stroke-width="1"/>
<rect x="436" y="315.9" width="3" height="3.9" fill="#e0452a"/>
<line x1="440.5" y1="302.3" x2="440.5" y2="319.5" stroke="#76787e" stroke-width="1"/>
<rect x="439" y="303.2" width="3" height="12.7" fill="#e0452a"/>
<line x1="444.5" y1="298.7" x2="444.5" y2="312.1" stroke="#76787e" stroke-width="1"/>
<rect x="443" y="303.2" width="3" height="4.9" fill="#2b8a22"/>
<line x1="447.5" y1="288.2" x2="447.5" y2="311.1" stroke="#76787e" stroke-width="1"/>
<rect x="446" y="292.5" width="3" height="15.7" fill="#e0452a"/>
<line x1="451.5" y1="259.4" x2="451.5" y2="297.8" stroke="#76787e" stroke-width="1"/>
<rect x="450" y="261.2" width="3" height="31.2" fill="#e0452a"/>
<line x1="454.5" y1="238.7" x2="454.5" y2="267.2" stroke="#76787e" stroke-width="1"/>
<rect x="453" y="241.6" width="3" height="19.6" fill="#e0452a"/>
<line x1="458.5" y1="232.8" x2="458.5" y2="265.2" stroke="#76787e" stroke-width="1"/>
<rect x="457" y="239.1" width="3" height="23.0" fill="#2b8a22"/>
<line x1="462.5" y1="259.2" x2="462.5" y2="276.9" stroke="#76787e" stroke-width="1"/>
<rect x="461" y="262.1" width="3" height="8.8" fill="#2b8a22"/>
<line x1="465.5" y1="270.7" x2="465.5" y2="302.6" stroke="#76787e" stroke-width="1"/>
<rect x="464" y="275.0" width="3" height="11.7" fill="#2b8a22"/>
<line x1="469.5" y1="289.5" x2="469.5" y2="320.9" stroke="#76787e" stroke-width="1"/>
<rect x="468" y="290.5" width="3" height="29.3" fill="#2b8a22"/>
<line x1="472.5" y1="314.0" x2="472.5" y2="334.6" stroke="#76787e" stroke-width="1"/>
<rect x="471" y="322.8" width="3" height="6.9" fill="#2b8a22"/>
<line x1="476.5" y1="336.8" x2="476.5" y2="358.1" stroke="#76787e" stroke-width="1"/>
<rect x="475" y="337.8" width="3" height="2.7" fill="#2b8a22"/>
<line x1="479.5" y1="339.2" x2="479.5" y2="357.4" stroke="#76787e" stroke-width="1"/>
<rect x="478" y="342.4" width="3" height="12.7" fill="#2b8a22"/>
<line x1="483.5" y1="353.8" x2="483.5" y2="359.1" stroke="#76787e" stroke-width="1"/>
<rect x="482" y="355.1" width="3" height="2.1" fill="#2b8a22"/>
<line x1="486.5" y1="347.4" x2="486.5" y2="363.5" stroke="#76787e" stroke-width="1"/>
<rect x="485" y="348.2" width="3" height="14.8" fill="#e0452a"/>
<line x1="490.5" y1="343.9" x2="490.5" y2="350.7" stroke="#76787e" stroke-width="1"/>
<rect x="489" y="347.3" width="3" height="1.0" fill="#e0452a"/>
<line x1="493.5" y1="334.3" x2="493.5" y2="351.0" stroke="#76787e" stroke-width="1"/>
<rect x="492" y="336.6" width="3" height="10.8" fill="#e0452a"/>
<line x1="497.5" y1="328.7" x2="497.5" y2="340.2" stroke="#76787e" stroke-width="1"/>
<rect x="496" y="330.7" width="3" height="5.8" fill="#e0452a"/>
<line x1="501.5" y1="325.3" x2="501.5" y2="332.0" stroke="#76787e" stroke-width="1"/>
<rect x="500" y="328.8" width="3" height="1.9" fill="#e0452a"/>
<line x1="504.5" y1="327.4" x2="504.5" y2="334.8" stroke="#76787e" stroke-width="1"/>
<rect x="503" y="328.8" width="3" height="4.5" fill="#2b8a22"/>
<line x1="508.5" y1="330.5" x2="508.5" y2="335.9" stroke="#76787e" stroke-width="1"/>
<rect x="507" y="331.8" width="3" height="1.5" fill="#e0452a"/>
<line x1="511.5" y1="321.3" x2="511.5" y2="333.9" stroke="#76787e" stroke-width="1"/>
<rect x="510" y="322.8" width="3" height="9.0" fill="#e0452a"/>
<line x1="515.5" y1="314.9" x2="515.5" y2="327.1" stroke="#76787e" stroke-width="1"/>
<rect x="514" y="315.9" width="3" height="6.9" fill="#e0452a"/>
<line x1="518.5" y1="314.0" x2="518.5" y2="321.7" stroke="#76787e" stroke-width="1"/>
<rect x="517" y="315.9" width="3" height="3.4" fill="#2b8a22"/>
<line x1="522.5" y1="313.9" x2="522.5" y2="333.2" stroke="#76787e" stroke-width="1"/>
<rect x="521" y="316.5" width="3" height="12.9" fill="#2b8a22"/>
<line x1="525.5" y1="321.4" x2="525.5" y2="333.4" stroke="#76787e" stroke-width="1"/>
<rect x="524" y="323.6" width="3" height="5.8" fill="#e0452a"/>
<line x1="529.5" y1="317.5" x2="529.5" y2="326.2" stroke="#76787e" stroke-width="1"/>
<rect x="528" y="320.0" width="3" height="3.6" fill="#e0452a"/>
<line x1="532.5" y1="304.9" x2="532.5" y2="320.6" stroke="#76787e" stroke-width="1"/>
<rect x="531" y="307.7" width="3" height="12.3" fill="#e0452a"/>
<line x1="536.5" y1="303.8" x2="536.5" y2="327.6" stroke="#76787e" stroke-width="1"/>
<rect x="535" y="305.9" width="3" height="20.5" fill="#2b8a22"/>
<line x1="539.5" y1="325.9" x2="539.5" y2="332.2" stroke="#76787e" stroke-width="1"/>
<rect x="538" y="326.4" width="3" height="2.4" fill="#2b8a22"/>
<line x1="543.5" y1="323.0" x2="543.5" y2="335.8" stroke="#76787e" stroke-width="1"/>
<rect x="542" y="324.2" width="3" height="9.3" fill="#e0452a"/>
<line x1="547.5" y1="320.9" x2="547.5" y2="326.8" stroke="#76787e" stroke-width="1"/>
<rect x="546" y="324.2" width="3" height="1.0" fill="#e0452a"/>
<line x1="550.5" y1="318.2" x2="550.5" y2="326.7" stroke="#76787e" stroke-width="1"/>
<rect x="549" y="320.0" width="3" height="4.2" fill="#e0452a"/>
<line x1="554.5" y1="317.3" x2="554.5" y2="324.8" stroke="#76787e" stroke-width="1"/>
<rect x="553" y="320.0" width="3" height="1.2" fill="#2b8a22"/>
<line x1="557.5" y1="316.6" x2="557.5" y2="324.0" stroke="#76787e" stroke-width="1"/>
<rect x="556" y="317.6" width="3" height="3.6" fill="#e0452a"/>
<line x1="561.5" y1="304.3" x2="561.5" y2="319.4" stroke="#76787e" stroke-width="1"/>
<rect x="560" y="305.9" width="3" height="11.7" fill="#e0452a"/>
<line x1="564.5" y1="291.6" x2="564.5" y2="308.9" stroke="#76787e" stroke-width="1"/>
<rect x="563" y="295.9" width="3" height="10.0" fill="#e0452a"/>
<line x1="568.5" y1="278.3" x2="568.5" y2="300.5" stroke="#76787e" stroke-width="1"/>
<rect x="567" y="281.9" width="3" height="14.1" fill="#e0452a"/>
<line x1="571.5" y1="268.0" x2="571.5" y2="285.0" stroke="#76787e" stroke-width="1"/>
<rect x="570" y="273.6" width="3" height="8.2" fill="#e0452a"/>
<line x1="575.5" y1="256.5" x2="575.5" y2="277.3" stroke="#76787e" stroke-width="1"/>
<rect x="574" y="260.8" width="3" height="12.9" fill="#e0452a"/>
<line x1="578.5" y1="257.3" x2="578.5" y2="278.7" stroke="#76787e" stroke-width="1"/>
<rect x="577" y="260.8" width="3" height="13.5" fill="#2b8a22"/>
<line x1="582.5" y1="271.2" x2="582.5" y2="280.9" stroke="#76787e" stroke-width="1"/>
<rect x="581" y="274.2" width="3" height="3.1" fill="#2b8a22"/>
<line x1="586.5" y1="269.3" x2="586.5" y2="283.2" stroke="#76787e" stroke-width="1"/>
<rect x="585" y="272.6" width="3" height="4.8" fill="#e0452a"/>
<line x1="589.5" y1="268.2" x2="589.5" y2="282.6" stroke="#76787e" stroke-width="1"/>
<rect x="588" y="272.6" width="3" height="4.6" fill="#2b8a22"/>
<line x1="593.5" y1="271.4" x2="593.5" y2="297.2" stroke="#76787e" stroke-width="1"/>
<rect x="592" y="276.5" width="3" height="18.8" fill="#2b8a22"/>
<line x1="596.5" y1="281.1" x2="596.5" y2="300.8" stroke="#76787e" stroke-width="1"/>
<rect x="595" y="284.5" width="3" height="10.8" fill="#e0452a"/>
<line x1="600.5" y1="278.2" x2="600.5" y2="285.9" stroke="#76787e" stroke-width="1"/>
<rect x="599" y="283.2" width="3" height="1.3" fill="#e0452a"/>
<line x1="603.5" y1="282.0" x2="603.5" y2="290.7" stroke="#76787e" stroke-width="1"/>
<rect x="602" y="283.2" width="3" height="4.6" fill="#2b8a22"/>
<line x1="607.5" y1="281.4" x2="607.5" y2="289.7" stroke="#76787e" stroke-width="1"/>
<rect x="606" y="282.5" width="3" height="5.4" fill="#e0452a"/>
<line x1="610.5" y1="263.8" x2="610.5" y2="287.0" stroke="#76787e" stroke-width="1"/>
<rect x="609" y="265.0" width="3" height="17.5" fill="#e0452a"/>
<line x1="614.5" y1="256.0" x2="614.5" y2="270.8" stroke="#76787e" stroke-width="1"/>
<rect x="613" y="264.7" width="3" height="1.0" fill="#e0452a"/>
<line x1="617.5" y1="263.1" x2="617.5" y2="274.4" stroke="#76787e" stroke-width="1"/>
<rect x="616" y="264.7" width="3" height="5.1" fill="#2b8a22"/>
<line x1="621.5" y1="266.0" x2="621.5" y2="297.3" stroke="#76787e" stroke-width="1"/>
<rect x="620" y="269.7" width="3" height="26.3" fill="#2b8a22"/>
<line x1="625.5" y1="291.5" x2="625.5" y2="315.3" stroke="#76787e" stroke-width="1"/>
<rect x="624" y="296.1" width="3" height="6.1" fill="#2b8a22"/>
<line x1="628.5" y1="289.9" x2="628.5" y2="307.4" stroke="#76787e" stroke-width="1"/>
<rect x="627" y="291.6" width="3" height="10.6" fill="#e0452a"/>
<line x1="632.5" y1="274.3" x2="632.5" y2="294.8" stroke="#76787e" stroke-width="1"/>
<rect x="631" y="277.1" width="3" height="14.5" fill="#e0452a"/>
<line x1="635.5" y1="271.2" x2="635.5" y2="285.4" stroke="#76787e" stroke-width="1"/>
<rect x="634" y="277.1" width="3" height="3.3" fill="#2b8a22"/>
<line x1="639.5" y1="278.9" x2="639.5" y2="288.7" stroke="#76787e" stroke-width="1"/>
<rect x="638" y="280.4" width="3" height="5.5" fill="#2b8a22"/>
<line x1="642.5" y1="279.1" x2="642.5" y2="288.3" stroke="#76787e" stroke-width="1"/>
<rect x="641" y="282.5" width="3" height="3.4" fill="#e0452a"/>
<line x1="646.5" y1="280.6" x2="646.5" y2="284.8" stroke="#76787e" stroke-width="1"/>
<rect x="645" y="282.3" width="3" height="1.0" fill="#e0452a"/>
<line x1="649.5" y1="271.0" x2="649.5" y2="283.1" stroke="#76787e" stroke-width="1"/>
<rect x="648" y="275.6" width="3" height="6.7" fill="#e0452a"/>
<line x1="653.5" y1="272.1" x2="653.5" y2="284.8" stroke="#76787e" stroke-width="1"/>
<rect x="652" y="275.6" width="3" height="6.3" fill="#2b8a22"/>
<line x1="656.5" y1="281.1" x2="656.5" y2="286.3" stroke="#76787e" stroke-width="1"/>
<rect x="655" y="281.9" width="3" height="2.1" fill="#2b8a22"/>
<line x1="660.5" y1="280.4" x2="660.5" y2="298.4" stroke="#76787e" stroke-width="1"/>
<rect x="659" y="283.9" width="3" height="11.4" fill="#2b8a22"/>
<line x1="663.5" y1="294.4" x2="663.5" y2="303.5" stroke="#76787e" stroke-width="1"/>
<rect x="662" y="295.3" width="3" height="3.0" fill="#2b8a22"/>
<line x1="667.5" y1="291.3" x2="667.5" y2="303.5" stroke="#76787e" stroke-width="1"/>
<rect x="666" y="295.6" width="3" height="2.7" fill="#e0452a"/>
<line x1="671.5" y1="286.2" x2="671.5" y2="297.6" stroke="#76787e" stroke-width="1"/>
<rect x="670" y="287.4" width="3" height="8.2" fill="#e0452a"/>
<line x1="674.5" y1="277.1" x2="674.5" y2="292.2" stroke="#76787e" stroke-width="1"/>
<rect x="673" y="278.0" width="3" height="9.4" fill="#e0452a"/>
<line x1="678.5" y1="276.0" x2="678.5" y2="287.6" stroke="#76787e" stroke-width="1"/>
<rect x="677" y="278.0" width="3" height="8.4" fill="#2b8a22"/>
<line x1="681.5" y1="283.0" x2="681.5" y2="291.6" stroke="#76787e" stroke-width="1"/>
<rect x="680" y="285.7" width="3" height="1.0" fill="#e0452a"/>
<line x1="685.5" y1="277.7" x2="685.5" y2="287.7" stroke="#76787e" stroke-width="1"/>
<rect x="684" y="282.6" width="3" height="3.1" fill="#e0452a"/>
<line x1="688.5" y1="281.2" x2="688.5" y2="288.1" stroke="#76787e" stroke-width="1"/>
<rect x="687" y="282.6" width="3" height="1.0" fill="#2b8a22"/>
<line x1="692.5" y1="279.3" x2="692.5" y2="293.4" stroke="#76787e" stroke-width="1"/>
<rect x="691" y="282.8" width="3" height="6.6" fill="#2b8a22"/>
<line x1="695.5" y1="284.2" x2="695.5" y2="290.3" stroke="#76787e" stroke-width="1"/>
<rect x="694" y="285.3" width="3" height="4.0" fill="#e0452a"/>
<line x1="699.5" y1="281.2" x2="699.5" y2="290.0" stroke="#76787e" stroke-width="1"/>
<rect x="698" y="285.3" width="3" height="1.9" fill="#2b8a22"/>
<line x1="702.5" y1="285.8" x2="702.5" y2="292.6" stroke="#76787e" stroke-width="1"/>
<rect x="701" y="286.8" width="3" height="1.0" fill="#e0452a"/>
<line x1="706.5" y1="281.0" x2="706.5" y2="291.5" stroke="#76787e" stroke-width="1"/>
<rect x="705" y="284.8" width="3" height="1.9" fill="#e0452a"/>
<line x1="710.5" y1="279.3" x2="710.5" y2="290.0" stroke="#76787e" stroke-width="1"/>
<rect x="709" y="280.4" width="3" height="4.5" fill="#e0452a"/>
<line x1="713.5" y1="279.4" x2="713.5" y2="294.8" stroke="#76787e" stroke-width="1"/>
<rect x="712" y="280.4" width="3" height="9.6" fill="#2b8a22"/>
<line x1="717.5" y1="287.1" x2="717.5" y2="296.4" stroke="#76787e" stroke-width="1"/>
<rect x="716" y="289.9" width="3" height="4.2" fill="#2b8a22"/>
<line x1="720.5" y1="291.1" x2="720.5" y2="311.5" stroke="#76787e" stroke-width="1"/>
<rect x="719" y="294.1" width="3" height="12.7" fill="#2b8a22"/>
<line x1="724.5" y1="305.2" x2="724.5" y2="321.0" stroke="#76787e" stroke-width="1"/>
<rect x="723" y="306.8" width="3" height="13.2" fill="#2b8a22"/>
<line x1="727.5" y1="317.8" x2="727.5" y2="344.6" stroke="#76787e" stroke-width="1"/>
<rect x="726" y="320.0" width="3" height="23.5" fill="#2b8a22"/>
<line x1="731.5" y1="342.8" x2="731.5" y2="363.5" stroke="#76787e" stroke-width="1"/>
<rect x="730" y="343.5" width="3" height="19.3" fill="#2b8a22"/>
<line x1="734.5" y1="362.3" x2="734.5" y2="370.0" stroke="#76787e" stroke-width="1"/>
<rect x="733" y="362.7" width="3" height="6.4" fill="#2b8a22"/>
<line x1="738.5" y1="353.5" x2="738.5" y2="370.4" stroke="#76787e" stroke-width="1"/>
<rect x="737" y="354.8" width="3" height="14.4" fill="#e0452a"/>
<line x1="741.5" y1="352.5" x2="741.5" y2="367.1" stroke="#76787e" stroke-width="1"/>
<rect x="740" y="354.8" width="3" height="11.2" fill="#2b8a22"/>
<line x1="745.5" y1="346.6" x2="745.5" y2="367.0" stroke="#76787e" stroke-width="1"/>
<rect x="744" y="348.5" width="3" height="17.5" fill="#e0452a"/>
<line x1="749.5" y1="347.1" x2="749.5" y2="350.8" stroke="#76787e" stroke-width="1"/>
<rect x="748" y="348.5" width="3" height="1.8" fill="#2b8a22"/>
<line x1="752.5" y1="349.2" x2="752.5" y2="353.7" stroke="#76787e" stroke-width="1"/>
<rect x="751" y="350.3" width="3" height="3.0" fill="#2b8a22"/>
<line x1="756.5" y1="351.2" x2="756.5" y2="372.0" stroke="#76787e" stroke-width="1"/>
<rect x="755" y="353.3" width="3" height="17.0" fill="#2b8a22"/>
<line x1="759.5" y1="366.6" x2="759.5" y2="371.9" stroke="#76787e" stroke-width="1"/>
<rect x="758" y="367.4" width="3" height="3.0" fill="#e0452a"/>
<line x1="763.5" y1="365.0" x2="763.5" y2="376.6" stroke="#76787e" stroke-width="1"/>
<rect x="762" y="367.4" width="3" height="8.7" fill="#2b8a22"/>
<line x1="766.5" y1="372.1" x2="766.5" y2="377.3" stroke="#76787e" stroke-width="1"/>
<rect x="765" y="374.2" width="3" height="1.8" fill="#e0452a"/>
<line x1="770.5" y1="373.0" x2="770.5" y2="383.7" stroke="#76787e" stroke-width="1"/>
<rect x="769" y="374.2" width="3" height="7.5" fill="#2b8a22"/>
<line x1="773.5" y1="380.8" x2="773.5" y2="393.7" stroke="#76787e" stroke-width="1"/>
<rect x="772" y="381.7" width="3" height="10.9" fill="#2b8a22"/>
<line x1="777.5" y1="391.3" x2="777.5" y2="398.3" stroke="#76787e" stroke-width="1"/>
<rect x="776" y="392.6" width="3" height="3.9" fill="#2b8a22"/>
<line x1="780.5" y1="393.8" x2="780.5" y2="398.1" stroke="#76787e" stroke-width="1"/>
<rect x="779" y="394.6" width="3" height="1.9" fill="#e0452a"/>
<line x1="784.5" y1="387.7" x2="784.5" y2="396.0" stroke="#76787e" stroke-width="1"/>
<rect x="783" y="389.2" width="3" height="5.4" fill="#e0452a"/>
<line x1="787.5" y1="375.3" x2="787.5" y2="390.3" stroke="#76787e" stroke-width="1"/>
<rect x="786" y="376.5" width="3" height="12.7" fill="#e0452a"/>
<line x1="791.5" y1="373.7" x2="791.5" y2="377.1" stroke="#76787e" stroke-width="1"/>
<rect x="790" y="374.1" width="3" height="2.4" fill="#e0452a"/>
<line x1="795.5" y1="373.6" x2="795.5" y2="376.1" stroke="#76787e" stroke-width="1"/>
<rect x="794" y="374.1" width="3" height="1.0" fill="#e0452a"/>
<line x1="798.5" y1="373.3" x2="798.5" y2="385.4" stroke="#76787e" stroke-width="1"/>
<rect x="797" y="374.1" width="3" height="10.8" fill="#2b8a22"/>
<line x1="802.5" y1="377.7" x2="802.5" y2="387.0" stroke="#76787e" stroke-width="1"/>
<rect x="801" y="378.1" width="3" height="6.7" fill="#e0452a"/>
<line x1="805.5" y1="372.7" x2="805.5" y2="380.0" stroke="#76787e" stroke-width="1"/>
<rect x="804" y="375.0" width="3" height="3.1" fill="#e0452a"/>
<line x1="809.5" y1="374.1" x2="809.5" y2="377.0" stroke="#76787e" stroke-width="1"/>
<rect x="808" y="375.0" width="3" height="1.2" fill="#2b8a22"/>
<line x1="812.5" y1="371.9" x2="812.5" y2="377.6" stroke="#76787e" stroke-width="1"/>
<rect x="811" y="372.9" width="3" height="3.3" fill="#e0452a"/>
<line x1="816.5" y1="362.7" x2="816.5" y2="374.4" stroke="#76787e" stroke-width="1"/>
<rect x="815" y="363.5" width="3" height="9.4" fill="#e0452a"/>
<line x1="819.5" y1="362.5" x2="819.5" y2="367.9" stroke="#76787e" stroke-width="1"/>
<rect x="818" y="363.5" width="3" height="1.6" fill="#2b8a22"/>
<line x1="823.5" y1="362.3" x2="823.5" y2="367.0" stroke="#76787e" stroke-width="1"/>
<rect x="822" y="365.1" width="3" height="1.0" fill="#2b8a22"/>
<line x1="826.5" y1="364.4" x2="826.5" y2="372.1" stroke="#76787e" stroke-width="1"/>
<rect x="825" y="365.3" width="3" height="4.2" fill="#2b8a22"/>
<line x1="830.5" y1="368.4" x2="830.5" y2="372.3" stroke="#76787e" stroke-width="1"/>
<rect x="829" y="369.5" width="3" height="1.6" fill="#2b8a22"/>
<line x1="834.5" y1="370.8" x2="834.5" y2="374.4" stroke="#76787e" stroke-width="1"/>
<rect x="833" y="371.1" width="3" height="2.1" fill="#2b8a22"/>
<line x1="837.5" y1="371.9" x2="837.5" y2="378.2" stroke="#76787e" stroke-width="1"/>
<rect x="836" y="373.2" width="3" height="3.6" fill="#2b8a22"/>
<line x1="841.5" y1="368.8" x2="841.5" y2="378.3" stroke="#76787e" stroke-width="1"/>
<rect x="840" y="369.6" width="3" height="7.2" fill="#e0452a"/>
<line x1="844.5" y1="369.3" x2="844.5" y2="371.0" stroke="#76787e" stroke-width="1"/>
<rect x="843" y="369.6" width="3" height="1.0" fill="#2b8a22"/>
<line x1="848.5" y1="361.9" x2="848.5" y2="371.5" stroke="#76787e" stroke-width="1"/>
<rect x="847" y="362.4" width="3" height="7.6" fill="#e0452a"/>
<line x1="851.5" y1="356.1" x2="851.5" y2="362.9" stroke="#76787e" stroke-width="1"/>
<rect x="850" y="356.6" width="3" height="5.8" fill="#e0452a"/>
<line x1="855.5" y1="352.0" x2="855.5" y2="357.7" stroke="#76787e" stroke-width="1"/>
<rect x="854" y="353.3" width="3" height="3.3" fill="#e0452a"/>
<line x1="858.5" y1="346.2" x2="858.5" y2="355.4" stroke="#76787e" stroke-width="1"/>
<rect x="857" y="348.4" width="3" height="4.9" fill="#e0452a"/>
<line x1="862.5" y1="342.3" x2="862.5" y2="350.9" stroke="#76787e" stroke-width="1"/>
<rect x="861" y="345.1" width="3" height="3.3" fill="#e0452a"/>
<line x1="865.5" y1="342.5" x2="865.5" y2="353.1" stroke="#76787e" stroke-width="1"/>
<rect x="864" y="345.1" width="3" height="4.9" fill="#2b8a22"/>
<line x1="869.5" y1="341.6" x2="869.5" y2="351.5" stroke="#76787e" stroke-width="1"/>
<rect x="868" y="343.3" width="3" height="6.7" fill="#e0452a"/>
<line x1="873.5" y1="332.1" x2="873.5" y2="344.3" stroke="#76787e" stroke-width="1"/>
<rect x="872" y="336.0" width="3" height="7.3" fill="#e0452a"/>
<line x1="876.5" y1="329.3" x2="876.5" y2="338.8" stroke="#76787e" stroke-width="1"/>
<rect x="875" y="332.4" width="3" height="3.6" fill="#e0452a"/>
<line x1="880.5" y1="329.1" x2="880.5" y2="335.9" stroke="#76787e" stroke-width="1"/>
<rect x="879" y="329.7" width="3" height="2.7" fill="#e0452a"/>
<line x1="883.5" y1="326.2" x2="883.5" y2="339.9" stroke="#76787e" stroke-width="1"/>
<rect x="882" y="329.7" width="3" height="7.6" fill="#2b8a22"/>
<line x1="887.5" y1="329.6" x2="887.5" y2="340.7" stroke="#76787e" stroke-width="1"/>
<rect x="886" y="332.7" width="3" height="4.6" fill="#e0452a"/>
<line x1="890.5" y1="323.7" x2="890.5" y2="335.2" stroke="#76787e" stroke-width="1"/>
<rect x="889" y="324.8" width="3" height="7.9" fill="#e0452a"/>
<line x1="894.5" y1="322.5" x2="894.5" y2="338.9" stroke="#76787e" stroke-width="1"/>
<rect x="893" y="324.8" width="3" height="10.8" fill="#2b8a22"/>
<line x1="897.5" y1="333.0" x2="897.5" y2="363.2" stroke="#76787e" stroke-width="1"/>
<rect x="896" y="335.5" width="3" height="25.1" fill="#2b8a22"/>
<line x1="901.5" y1="358.9" x2="901.5" y2="370.5" stroke="#76787e" stroke-width="1"/>
<rect x="900" y="360.6" width="3" height="7.3" fill="#2b8a22"/>
<line x1="904.5" y1="353.5" x2="904.5" y2="370.3" stroke="#76787e" stroke-width="1"/>
<rect x="903" y="355.9" width="3" height="12.1" fill="#e0452a"/>
<line x1="908.5" y1="348.2" x2="908.5" y2="356.4" stroke="#76787e" stroke-width="1"/>
<rect x="907" y="349.3" width="3" height="6.6" fill="#e0452a"/>
<line x1="911.5" y1="345.3" x2="911.5" y2="350.8" stroke="#76787e" stroke-width="1"/>
<rect x="910" y="346.1" width="3" height="3.1" fill="#e0452a"/>
<line x1="915.5" y1="338.8" x2="915.5" y2="349.4" stroke="#76787e" stroke-width="1"/>
<rect x="914" y="339.6" width="3" height="6.6" fill="#e0452a"/>
<line x1="919.5" y1="337.5" x2="919.5" y2="354.2" stroke="#76787e" stroke-width="1"/>
<rect x="918" y="339.6" width="3" height="12.4" fill="#2b8a22"/>
<line x1="922.5" y1="346.5" x2="922.5" y2="354.5" stroke="#76787e" stroke-width="1"/>
<rect x="921" y="348.8" width="3" height="3.1" fill="#e0452a"/>
<line x1="926.5" y1="347.0" x2="926.5" y2="351.3" stroke="#76787e" stroke-width="1"/>
<rect x="925" y="348.8" width="3" height="2.1" fill="#2b8a22"/>
<line x1="929.5" y1="348.3" x2="929.5" y2="360.6" stroke="#76787e" stroke-width="1"/>
<rect x="928" y="350.9" width="3" height="7.2" fill="#2b8a22"/>
<line x1="933.5" y1="355.7" x2="933.5" y2="360.0" stroke="#76787e" stroke-width="1"/>
<rect x="932" y="357.5" width="3" height="1.0" fill="#e0452a"/>
<line x1="936.5" y1="355.3" x2="936.5" y2="358.9" stroke="#76787e" stroke-width="1"/>
<rect x="935" y="357.5" width="3" height="1.0" fill="#2b8a22"/>
<line x1="940.5" y1="352.6" x2="940.5" y2="359.5" stroke="#76787e" stroke-width="1"/>
<rect x="939" y="355.1" width="3" height="3.3" fill="#e0452a"/>
<line x1="943.5" y1="349.1" x2="943.5" y2="356.3" stroke="#76787e" stroke-width="1"/>
<rect x="942" y="349.7" width="3" height="5.4" fill="#e0452a"/>
<line x1="947.5" y1="347.5" x2="947.5" y2="364.4" stroke="#76787e" stroke-width="1"/>
<rect x="946" y="349.7" width="3" height="13.8" fill="#2b8a22"/>
<line x1="950.5" y1="361.5" x2="950.5" y2="377.1" stroke="#76787e" stroke-width="1"/>
<rect x="949" y="363.5" width="3" height="11.1" fill="#2b8a22"/>
<line x1="954.5" y1="373.8" x2="954.5" y2="411.0" stroke="#76787e" stroke-width="1"/>
<rect x="953" y="374.5" width="3" height="35.9" fill="#2b8a22"/>
<line x1="958.5" y1="394.6" x2="958.5" y2="423.7" stroke="#76787e" stroke-width="1"/>
<rect x="957" y="408.8" width="3" height="1.6" fill="#e0452a"/>
<line x1="961.5" y1="390.2" x2="961.5" y2="410.1" stroke="#76787e" stroke-width="1"/>
<rect x="960" y="391.7" width="3" height="17.0" fill="#e0452a"/>
<line x1="965.5" y1="385.0" x2="965.5" y2="392.1" stroke="#76787e" stroke-width="1"/>
<rect x="964" y="386.5" width="3" height="5.2" fill="#e0452a"/>
<line x1="968.5" y1="383.6" x2="968.5" y2="387.3" stroke="#76787e" stroke-width="1"/>
<rect x="967" y="384.1" width="3" height="2.4" fill="#e0452a"/>
<line x1="972.5" y1="381.0" x2="972.5" y2="385.0" stroke="#76787e" stroke-width="1"/>
<rect x="971" y="382.8" width="3" height="1.3" fill="#e0452a"/>
<line x1="975.5" y1="381.5" x2="975.5" y2="388.6" stroke="#76787e" stroke-width="1"/>
<rect x="974" y="382.8" width="3" height="5.5" fill="#2b8a22"/>
<line x1="979.5" y1="388.0" x2="979.5" y2="393.2" stroke="#76787e" stroke-width="1"/>
<rect x="978" y="388.3" width="3" height="4.2" fill="#2b8a22"/>
<line x1="982.5" y1="375.3" x2="982.5" y2="394.3" stroke="#76787e" stroke-width="1"/>
<rect x="981" y="377.1" width="3" height="15.4" fill="#e0452a"/>
<line x1="986.5" y1="369.2" x2="986.5" y2="378.1" stroke="#76787e" stroke-width="1"/>
<rect x="985" y="371.1" width="3" height="6.0" fill="#e0452a"/>
<line x1="989.5" y1="363.5" x2="989.5" y2="372.6" stroke="#76787e" stroke-width="1"/>
<rect x="988" y="365.1" width="3" height="6.0" fill="#e0452a"/>
<line x1="993.5" y1="347.1" x2="993.5" y2="365.9" stroke="#76787e" stroke-width="1"/>
<rect x="992" y="349.0" width="3" height="16.1" fill="#e0452a"/>
<line x1="997.5" y1="346.0" x2="997.5" y2="354.1" stroke="#76787e" stroke-width="1"/>
<rect x="996" y="349.0" width="3" height="4.2" fill="#2b8a22"/>
<line x1="1000.5" y1="344.6" x2="1000.5" y2="356.5" stroke="#76787e" stroke-width="1"/>
<rect x="999" y="348.1" width="3" height="5.1" fill="#e0452a"/>
<line x1="1004.5" y1="343.3" x2="1004.5" y2="350.0" stroke="#76787e" stroke-width="1"/>
<rect x="1003" y="343.8" width="3" height="4.3" fill="#e0452a"/>
<line x1="1007.5" y1="337.3" x2="1007.5" y2="347.4" stroke="#76787e" stroke-width="1"/>
<rect x="1006" y="340.5" width="3" height="3.3" fill="#e0452a"/>
<line x1="1011.5" y1="331.5" x2="1011.5" y2="341.9" stroke="#76787e" stroke-width="1"/>
<rect x="1010" y="333.6" width="3" height="6.9" fill="#e0452a"/>
<line x1="1014.5" y1="332.4" x2="1014.5" y2="343.2" stroke="#76787e" stroke-width="1"/>
<rect x="1013" y="333.6" width="3" height="6.0" fill="#2b8a22"/>
<line x1="1018.5" y1="329.8" x2="1018.5" y2="342.1" stroke="#76787e" stroke-width="1"/>
<rect x="1017" y="331.0" width="3" height="8.5" fill="#e0452a"/>
<line x1="1021.5" y1="320.6" x2="1021.5" y2="333.6" stroke="#76787e" stroke-width="1"/>
<rect x="1020" y="321.6" width="3" height="9.4" fill="#e0452a"/>
<line x1="1025.5" y1="319.0" x2="1025.5" y2="448.0" stroke="#76787e" stroke-width="1"/>
<rect x="1024" y="322.5" width="3" height="21.4" fill="#2b8a22"/>
<line x1="1028.5" y1="328.5" x2="1028.5" y2="346.2" stroke="#76787e" stroke-width="1"/>
<rect x="1027" y="331.9" width="3" height="12.0" fill="#e0452a"/>
<line x1="1032.5" y1="307.0" x2="1032.5" y2="335.5" stroke="#76787e" stroke-width="1"/>
<rect x="1031" y="311.3" width="3" height="20.6" fill="#e0452a"/>
<line x1="1035.5" y1="300.3" x2="1035.5" y2="316.0" stroke="#76787e" stroke-width="1"/>
<rect x="1034" y="301.9" width="3" height="9.4" fill="#e0452a"/>
<line x1="1039.5" y1="240.4" x2="1039.5" y2="301.4" stroke="#76787e" stroke-width="1"/>
<rect x="1038" y="259.4" width="3" height="41.9" fill="#e0452a"/>
<circle cx="87" cy="416" r="3.5" fill="#dedfe4" stroke="#8a8c92" stroke-width="1.15"/>
<circle cx="121.8" cy="404.8" r="3.5" fill="#dedfe4" stroke="#8a8c92" stroke-width="1.15"/>
<circle cx="157.9" cy="407.8" r="3.5" fill="#dedfe4" stroke="#8a8c92" stroke-width="1.15"/>
<circle cx="193" cy="409.8" r="3.5" fill="#dedfe4" stroke="#8a8c92" stroke-width="1.15"/>
<circle cx="227.8" cy="400.8" r="3.5" fill="#dedfe4" stroke="#8a8c92" stroke-width="1.15"/>
<circle cx="263.8" cy="404.8" r="3.5" fill="#dedfe4" stroke="#8a8c92" stroke-width="1.15"/>
<circle cx="298.8" cy="377.5" r="3.5" fill="#dedfe4" stroke="#8a8c92" stroke-width="1.15"/>
<circle cx="334.6" cy="353.9" r="3.5" fill="#dedfe4" stroke="#8a8c92" stroke-width="1.15"/>
<circle cx="369.8" cy="348.5" r="3.5" fill="#dedfe4" stroke="#8a8c92" stroke-width="1.15"/>
<circle cx="405.6" cy="348.5" r="3.5" fill="#dedfe4" stroke="#8a8c92" stroke-width="1.15"/>
<circle cx="440.7" cy="311.9" r="3.5" fill="#dedfe4" stroke="#8a8c92" stroke-width="1.15"/>
<circle cx="475.8" cy="340" r="3.5" fill="#dedfe4" stroke="#8a8c92" stroke-width="1.15"/>
<circle cx="512" cy="328" r="3.5" fill="#dedfe4" stroke="#8a8c92" stroke-width="1.15"/>
<circle cx="546.9" cy="325" r="3.5" fill="#dedfe4" stroke="#8a8c92" stroke-width="1.15"/>
<circle cx="583" cy="278" r="3.5" fill="#dedfe4" stroke="#8a8c92" stroke-width="1.15"/>
<circle cx="617.9" cy="267.7" r="3.5" fill="#dedfe4" stroke="#8a8c92" stroke-width="1.15"/>
<circle cx="654" cy="279.9" r="3.5" fill="#dedfe4" stroke="#8a8c92" stroke-width="1.15"/>
<circle cx="688.5" cy="285.2" r="3.5" fill="#dedfe4" stroke="#8a8c92" stroke-width="1.15"/>
<circle cx="723.7" cy="313.8" r="3.5" fill="#dedfe4" stroke="#8a8c92" stroke-width="1.15"/>
<circle cx="759.5" cy="370" r="3.5" fill="#dedfe4" stroke="#8a8c92" stroke-width="1.15"/>
<circle cx="794.8" cy="374.8" r="3.5" fill="#dedfe4" stroke="#8a8c92" stroke-width="1.15"/>
<circle cx="830.8" cy="370" r="3.5" fill="#dedfe4" stroke="#8a8c92" stroke-width="1.15"/>
<circle cx="865.7" cy="349" r="3.5" fill="#dedfe4" stroke="#8a8c92" stroke-width="1.15"/>
<circle cx="902.2" cy="363.5" r="3.5" fill="#dedfe4" stroke="#8a8c92" stroke-width="1.15"/>
<circle cx="936.7" cy="359.5" r="3.5" fill="#dedfe4" stroke="#8a8c92" stroke-width="1.15"/>
<circle cx="971.6" cy="382.8" r="3.5" fill="#dedfe4" stroke="#8a8c92" stroke-width="1.15"/>
<circle cx="1007.7" cy="340.3" r="3.5" fill="#dedfe4" stroke="#8a8c92" stroke-width="1.15"/>
<line x1="84" y1="259.5" x2="1135" y2="259.5" stroke="#b3302a" stroke-width="1" stroke-dasharray="2,1"/>
<polyline points="139.6,553.8 143.2,575.0 146.7,572.7 150.2,568.1 153.8,556.0 157.3,548.5 160.9,550.8 164.4,567.1 168.0,577.0 171.5,589.2 175.0,587.6 178.6,587.6 182.1,587.1 185.7,582.5 189.2,563.1 192.8,544.1 196.3,535.2 199.8,536.9 203.4,537.8 206.9,528.8 210.5,512.7 214.0,507.5 217.6,510.6 221.1,513.2 224.6,502.0 228.2,489.3 231.7,501.2 235.3,526.7 238.8,548.3 242.4,550.7 245.9,557.9 249.4,544.9 253.0,545.9 256.5,527.9 260.1,532.5 263.6,524.5 267.2,517.7 270.7,506.2 274.2,501.2 277.8,494.4 281.3,494.8 284.9,498.3 288.4,498.7 292.0,499.6 295.5,492.6 299.1,491.9 302.6,497.0 306.1,510.6 309.7,515.0 313.2,507.4 316.8,492.1 320.3,493.0 323.9,498.5 327.4,500.1 330.9,494.4 334.5,488.9 338.0,492.7 341.6,504.5 345.1,521.0 348.7,526.5 352.2,516.7 355.7,506.0 359.3,503.1 362.8,502.8 366.4,502.6 369.9,500.0 373.5,498.9 377.0,499.1 380.5,511.9 384.1,526.2 387.6,528.1 391.2,524.6 394.7,529.1 398.3,535.5 401.8,538.4 405.3,533.3 408.9,528.3 412.4,517.3 416.0,508.7 419.5,510.9 423.1,506.3 426.6,501.1 430.1,491.4 433.7,492.5 437.2,493.5 440.8,491.4 444.3,493.8 447.9,493.8 451.4,493.8 454.9,489.1 458.5,495.8 462.0,507.0 465.6,522.8 469.1,540.9 472.7,560.9 476.2,574.9 479.7,582.7 483.3,586.1 486.8,586.9 490.4,583.3 493.9,576.5 497.5,571.7 501.0,566.6 504.5,565.7 508.1,563.8 511.6,557.6 515.2,542.9 518.7,521.8 522.3,512.9 525.8,507.1 529.3,507.6 532.9,498.1 536.4,508.3 540.0,522.9 543.5,541.2 547.1,546.8 550.6,545.9 554.1,545.3 557.7,538.0 561.2,522.3 564.8,506.4 568.3,493.1 571.9,493.7 575.4,492.2 578.9,498.0 582.5,504.4 586.0,509.8 589.6,511.1 593.1,521.5 596.7,528.5 600.2,533.1 603.7,530.0 607.3,530.5 610.8,522.3 614.4,512.5 617.9,508.8 621.5,535.0 625.0,556.0 628.6,566.4 632.1,547.1 635.6,533.9 639.2,530.5 642.7,533.7 646.3,534.9 649.8,528.7 653.4,528.3 656.9,529.3 660.4,541.2 664.0,549.8 667.5,554.4 671.1,543.9 674.6,526.6 678.2,522.0 681.7,525.0 685.2,530.9 688.8,527.0 692.3,530.9 695.9,533.9 699.4,538.2 703.0,532.1 706.5,527.9 710.0,516.4 713.6,520.4 717.1,539.0 720.7,564.4 724.2,581.3 727.8,586.4 731.3,590.7 734.8,591.2 738.4,585.7 741.9,584.3 745.5,576.0 749.0,574.3 752.6,569.3 756.1,577.2 759.6,583.3 763.2,589.9 766.7,589.2 770.3,590.1 773.8,589.8 777.4,589.9 780.9,588.2 784.4,582.4 788.0,568.5 791.5,554.3 795.1,543.7 798.6,549.0 802.2,550.4 805.7,542.3 809.2,528.3 812.8,509.2 816.3,499.2 819.9,489.8 823.4,491.4 827.0,497.8 830.5,504.5 834.0,515.5 837.6,529.4 841.1,530.7 844.7,528.0 848.2,507.7 851.8,497.8 855.3,488.3 858.8,489.9 862.4,492.0 865.9,498.0 869.5,497.1 873.0,497.4 876.6,491.9 880.1,490.7 883.6,495.4 887.2,497.6 890.7,497.9 894.3,499.7 897.8,528.8 901.4,562.0 904.9,577.4 908.4,563.8 912.0,547.5 915.5,535.3 919.1,537.3 922.6,539.3 926.2,547.8 929.7,552.4 933.2,558.9 936.8,564.5 940.3,562.2 943.9,552.1 947.4,553.5 951.0,562.7 954.5,582.3 958.0,583.7 961.6,572.7 965.1,557.5 968.7,545.4 972.2,539.5 975.8,538.3 979.3,542.0 982.9,539.3 986.4,531.2 989.9,518.3 993.5,505.3 997.0,497.5 1000.6,490.7 1004.1,490.1 1007.7,488.3 1011.2,487.9 1014.7,492.3 1018.3,491.5 1021.8,490.8 1025.4,493.1 1028.9,496.0 1032.5,496.6 1036.0,490.1 1039.5,489.8" fill="none" stroke="#e8404a" stroke-width="1" stroke-linejoin="round"/>
<polyline points="132.5,512.2 136.1,588.0 139.6,561.2 143.2,575.9 146.7,581.1 150.2,547.3 153.8,539.5 157.3,558.6 160.9,554.2 164.4,588.6 168.0,588.1 171.5,590.9 175.0,583.7 178.6,588.1 182.1,589.6 185.7,569.8 189.2,530.0 192.8,532.6 196.3,543.0 199.8,535.2 203.4,535.2 206.9,516.1 210.5,486.8 214.0,519.5 217.6,525.6 221.1,494.3 224.6,486.2 228.2,487.4 231.7,530.0 235.3,562.7 238.8,552.0 242.4,537.4 245.9,584.1 249.4,513.2 253.0,540.4 256.5,530.2 260.1,526.8 263.6,516.6 267.2,509.8 270.7,492.3 274.2,501.5 277.8,489.5 281.3,493.3 284.9,512.1 288.4,490.7 292.0,495.9 295.5,491.0 299.1,488.7 302.6,511.4 306.1,531.8 309.7,501.9 313.2,488.5 316.8,485.9 320.3,504.7 323.9,504.7 327.4,490.8 330.9,487.8 334.5,488.2 338.0,502.1 341.6,523.1 345.1,537.9 348.7,518.6 352.2,493.6 355.7,505.9 359.3,509.9 362.8,492.5 366.4,505.2 369.9,502.1 373.5,489.3 377.0,505.9 380.5,540.3 384.1,532.5 387.6,511.3 391.2,530.1 394.7,545.8 398.3,530.7 401.8,538.7 405.3,530.5 408.9,515.8 412.4,505.6 416.0,504.7 419.5,522.5 423.1,491.5 426.6,489.3 430.1,493.3 433.7,494.8 437.2,492.5 440.8,486.8 444.3,502.1 447.9,492.3 451.4,487.1 454.9,487.8 458.5,512.4 462.0,520.7 465.6,535.4 469.1,566.7 472.7,580.7 476.2,577.4 479.7,589.9 483.3,590.9 486.8,580.0 490.4,579.2 493.9,570.4 497.5,565.6 501.0,564.0 504.5,567.7 508.1,559.8 511.6,545.4 515.2,523.4 518.7,496.7 522.3,518.6 525.8,505.9 529.3,498.2 532.9,490.2 536.4,536.5 540.0,541.9 543.5,545.1 547.1,553.3 550.6,539.3 554.1,543.3 557.7,531.4 561.2,492.2 564.8,495.4 568.3,491.7 571.9,494.0 575.4,490.8 578.9,509.1 582.5,513.3 586.0,506.9 589.6,513.1 593.1,544.4 596.7,528.0 600.2,527.1 603.7,535.0 607.3,529.4 610.8,502.4 614.4,505.8 617.9,518.0 621.5,581.2 625.0,568.7 628.6,549.4 632.1,523.2 635.6,529.1 639.2,539.2 642.7,532.9 646.3,532.7 649.8,520.5 653.4,531.8 656.9,535.6 660.4,556.2 664.0,557.4 667.5,549.5 671.1,524.7 674.6,505.5 678.2,535.7 681.7,533.7 685.2,523.3 688.8,523.8 692.3,545.6 695.9,532.2 699.4,536.9 703.0,527.2 706.5,519.7 710.0,502.2 713.6,539.5 717.1,575.3 720.7,578.5 724.2,590.0 727.8,590.6 731.3,591.5 734.8,591.5 738.4,574.1 741.9,587.3 745.5,566.7 749.0,568.8 752.6,572.3 756.1,590.6 759.6,587.1 763.2,591.9 766.7,588.7 770.3,589.8 773.8,590.9 777.4,589.0 780.9,584.7 784.4,573.6 788.0,547.2 791.5,542.2 795.1,541.7 798.6,563.1 802.2,546.4 805.7,517.3 809.2,521.1 812.8,489.0 816.3,487.3 819.9,493.0 823.4,493.9 827.0,506.5 830.5,513.1 834.0,526.9 837.6,548.1 841.1,516.9 844.7,518.8 848.2,487.5 851.8,487.2 855.3,490.2 858.8,492.4 862.4,493.4 865.9,508.1 869.5,489.9 873.0,494.0 876.6,491.7 880.1,486.4 883.6,508.0 887.2,498.4 890.7,487.3 894.3,513.5 897.8,585.6 901.4,586.8 904.9,559.7 908.4,544.9 912.0,537.9 915.5,523.1 919.1,550.9 922.6,543.9 926.2,548.6 929.7,564.7 933.2,563.3 936.8,565.3 940.3,558.0 943.9,533.0 947.4,569.6 951.0,585.6 954.5,591.6 958.0,573.9 961.6,552.6 965.1,546.1 968.7,537.4 972.2,535.1 975.8,542.6 979.3,548.5 982.9,526.8 986.4,518.3 989.9,509.9 993.5,487.6 997.0,495.0 1000.6,489.7 1004.1,485.6 1007.7,489.7 1011.2,488.5 1014.7,498.8 1018.3,487.1 1021.8,486.6 1025.4,505.7 1028.9,495.8 1032.5,488.3 1036.0,486.2 1039.5,494.8" fill="none" stroke="#4040e0" stroke-width="1" stroke-linejoin="round"/>
<line x1="203.5" y1="672.5" x2="203.5" y2="669.6" stroke="#c8504a" stroke-width="1" opacity="0.9"/>
<line x1="206.5" y1="672.5" x2="206.5" y2="669.3" stroke="#c8504a" stroke-width="1" opacity="0.9"/>
<line x1="210.5" y1="672.5" x2="210.5" y2="668.9" stroke="#c8504a" stroke-width="1" opacity="0.9"/>
<line x1="214.5" y1="672.5" x2="214.5" y2="669.5" stroke="#c8504a" stroke-width="1" opacity="0.9"/>
<line x1="217.5" y1="672.5" x2="217.5" y2="670.0" stroke="#c8504a" stroke-width="1" opacity="0.9"/>
<line x1="221.5" y1="672.5" x2="221.5" y2="669.9" stroke="#c8504a" stroke-width="1" opacity="0.9"/>
<line x1="224.5" y1="672.5" x2="224.5" y2="669.2" stroke="#c8504a" stroke-width="1" opacity="0.9"/>
<line x1="228.5" y1="672.5" x2="228.5" y2="668.9" stroke="#c8504a" stroke-width="1" opacity="0.9"/>
<line x1="231.5" y1="672.5" x2="231.5" y2="670.1" stroke="#c8504a" stroke-width="1" opacity="0.9"/>
<line x1="235.5" y1="672.5" x2="235.5" y2="671.4" stroke="#c8504a" stroke-width="1" opacity="0.9"/>
<line x1="238.5" y1="672.5" x2="238.5" y2="671.8" stroke="#c8504a" stroke-width="1" opacity="0.9"/>
<line x1="242.5" y1="672.5" x2="242.5" y2="671.8" stroke="#c8504a" stroke-width="1" opacity="0.9"/>
<line x1="245.5" y1="672.5" x2="245.5" y2="672.8" stroke="#c8504a" stroke-width="1" opacity="0.9"/>
<line x1="249.5" y1="672.5" x2="249.5" y2="672.1" stroke="#c8504a" stroke-width="1" opacity="0.9"/>
<line x1="252.5" y1="672.5" x2="252.5" y2="672.2" stroke="#c8504a" stroke-width="1" opacity="0.9"/>
<line x1="256.5" y1="672.5" x2="256.5" y2="672.1" stroke="#c8504a" stroke-width="1" opacity="0.9"/>
<line x1="260.5" y1="672.5" x2="260.5" y2="672.0" stroke="#c8504a" stroke-width="1" opacity="0.9"/>
<line x1="263.5" y1="672.5" x2="263.5" y2="671.8" stroke="#c8504a" stroke-width="1" opacity="0.9"/>
<line x1="267.5" y1="672.5" x2="267.5" y2="671.6" stroke="#c8504a" stroke-width="1" opacity="0.9"/>
<line x1="270.5" y1="672.5" x2="270.5" y2="671.0" stroke="#c8504a" stroke-width="1" opacity="0.9"/>
<line x1="274.5" y1="672.5" x2="274.5" y2="670.9" stroke="#c8504a" stroke-width="1" opacity="0.9"/>
<line x1="277.5" y1="672.5" x2="277.5" y2="670.2" stroke="#c8504a" stroke-width="1" opacity="0.9"/>
<line x1="281.5" y1="672.5" x2="281.5" y2="669.4" stroke="#c8504a" stroke-width="1" opacity="0.9"/>
<line x1="284.5" y1="672.5" x2="284.5" y2="669.7" stroke="#c8504a" stroke-width="1" opacity="0.9"/>
<line x1="288.5" y1="672.5" x2="288.5" y2="668.7" stroke="#c8504a" stroke-width="1" opacity="0.9"/>
<line x1="291.5" y1="672.5" x2="291.5" y2="668.6" stroke="#c8504a" stroke-width="1" opacity="0.9"/>
<line x1="295.5" y1="672.5" x2="295.5" y2="667.2" stroke="#c8504a" stroke-width="1" opacity="0.9"/>
<line x1="299.5" y1="672.5" x2="299.5" y2="666.5" stroke="#c8504a" stroke-width="1" opacity="0.9"/>
<line x1="302.5" y1="672.5" x2="302.5" y2="667.2" stroke="#c8504a" stroke-width="1" opacity="0.9"/>
<line x1="306.5" y1="672.5" x2="306.5" y2="668.8" stroke="#c8504a" stroke-width="1" opacity="0.9"/>
<line x1="309.5" y1="672.5" x2="309.5" y2="668.8" stroke="#c8504a" stroke-width="1" opacity="0.9"/>
<line x1="313.5" y1="672.5" x2="313.5" y2="668.2" stroke="#c8504a" stroke-width="1" opacity="0.9"/>
<line x1="316.5" y1="672.5" x2="316.5" y2="667.2" stroke="#c8504a" stroke-width="1" opacity="0.9"/>
<line x1="320.5" y1="672.5" x2="320.5" y2="667.8" stroke="#c8504a" stroke-width="1" opacity="0.9"/>
<line x1="323.5" y1="672.5" x2="323.5" y2="668.6" stroke="#c8504a" stroke-width="1" opacity="0.9"/>
<line x1="327.5" y1="672.5" x2="327.5" y2="668.4" stroke="#c8504a" stroke-width="1" opacity="0.9"/>
<line x1="330.5" y1="672.5" x2="330.5" y2="667.8" stroke="#c8504a" stroke-width="1" opacity="0.9"/>
<line x1="334.5" y1="672.5" x2="334.5" y2="666.3" stroke="#c8504a" stroke-width="1" opacity="0.9"/>
<line x1="338.5" y1="672.5" x2="338.5" y2="666.5" stroke="#c8504a" stroke-width="1" opacity="0.9"/>
<line x1="341.5" y1="672.5" x2="341.5" y2="668.4" stroke="#c8504a" stroke-width="1" opacity="0.9"/>
<line x1="345.5" y1="672.5" x2="345.5" y2="670.8" stroke="#c8504a" stroke-width="1" opacity="0.9"/>
<line x1="348.5" y1="672.5" x2="348.5" y2="671.5" stroke="#c8504a" stroke-width="1" opacity="0.9"/>
<line x1="352.5" y1="672.5" x2="352.5" y2="670.7" stroke="#c8504a" stroke-width="1" opacity="0.9"/>
<line x1="355.5" y1="672.5" x2="355.5" y2="671.2" stroke="#c8504a" stroke-width="1" opacity="0.9"/>
<line x1="359.5" y1="672.5" x2="359.5" y2="671.8" stroke="#c8504a" stroke-width="1" opacity="0.9"/>
<line x1="362.5" y1="672.5" x2="362.5" y2="671.4" stroke="#c8504a" stroke-width="1" opacity="0.9"/>
<line x1="366.5" y1="672.5" x2="366.5" y2="672.0" stroke="#c8504a" stroke-width="1" opacity="0.9"/>
<line x1="369.5" y1="672.5" x2="369.5" y2="672.5" stroke="#c8504a" stroke-width="1" opacity="0.9"/>
<line x1="373.5" y1="672.5" x2="373.5" y2="672.1" stroke="#c8504a" stroke-width="1" opacity="0.9"/>
<line x1="376.5" y1="672.5" x2="376.5" y2="672.7" stroke="#c8504a" stroke-width="1" opacity="0.9"/>
<line x1="380.5" y1="672.5" x2="380.5" y2="674.4" stroke="#c8504a" stroke-width="1" opacity="0.9"/>
<line x1="384.5" y1="672.5" x2="384.5" y2="675.4" stroke="#c8504a" stroke-width="1" opacity="0.9"/>
<line x1="387.5" y1="672.5" x2="387.5" y2="675.3" stroke="#c8504a" stroke-width="1" opacity="0.9"/>
<line x1="391.5" y1="672.5" x2="391.5" y2="676.0" stroke="#c8504a" stroke-width="1" opacity="0.9"/>
<line x1="394.5" y1="672.5" x2="394.5" y2="677.0" stroke="#c8504a" stroke-width="1" opacity="0.9"/>
<line x1="398.5" y1="672.5" x2="398.5" y2="676.6" stroke="#c8504a" stroke-width="1" opacity="0.9"/>
<line x1="401.5" y1="672.5" x2="401.5" y2="676.4" stroke="#c8504a" stroke-width="1" opacity="0.9"/>
<line x1="405.5" y1="672.5" x2="405.5" y2="676.0" stroke="#c8504a" stroke-width="1" opacity="0.9"/>
<line x1="408.5" y1="672.5" x2="408.5" y2="675.5" stroke="#c8504a" stroke-width="1" opacity="0.9"/>
<line x1="412.5" y1="672.5" x2="412.5" y2="674.8" stroke="#c8504a" stroke-width="1" opacity="0.9"/>
<line x1="415.5" y1="672.5" x2="415.5" y2="674.3" stroke="#c8504a" stroke-width="1" opacity="0.9"/>
<line x1="419.5" y1="672.5" x2="419.5" y2="674.5" stroke="#c8504a" stroke-width="1" opacity="0.9"/>
<line x1="423.5" y1="672.5" x2="423.5" y2="673.8" stroke="#c8504a" stroke-width="1" opacity="0.9"/>
<line x1="426.5" y1="672.5" x2="426.5" y2="672.0" stroke="#c8504a" stroke-width="1" opacity="0.9"/>
<line x1="430.5" y1="672.5" x2="430.5" y2="670.1" stroke="#c8504a" stroke-width="1" opacity="0.9"/>
<line x1="433.5" y1="672.5" x2="433.5" y2="668.7" stroke="#c8504a" stroke-width="1" opacity="0.9"/>
<line x1="437.5" y1="672.5" x2="437.5" y2="667.6" stroke="#c8504a" stroke-width="1" opacity="0.9"/>
<line x1="440.5" y1="672.5" x2="440.5" y2="665.5" stroke="#c8504a" stroke-width="1" opacity="0.9"/>
<line x1="444.5" y1="672.5" x2="444.5" y2="665.4" stroke="#c8504a" stroke-width="1" opacity="0.9"/>
<line x1="447.5" y1="672.5" x2="447.5" y2="663.7" stroke="#c8504a" stroke-width="1" opacity="0.9"/>
<line x1="451.5" y1="672.5" x2="451.5" y2="658.9" stroke="#c8504a" stroke-width="1" opacity="0.9"/>
<line x1="454.5" y1="672.5" x2="454.5" y2="654.0" stroke="#c8504a" stroke-width="1" opacity="0.9"/>
<line x1="458.5" y1="672.5" x2="458.5" y2="655.1" stroke="#c8504a" stroke-width="1" opacity="0.9"/>
<line x1="462.5" y1="672.5" x2="462.5" y2="658.4" stroke="#c8504a" stroke-width="1" opacity="0.9"/>
<line x1="465.5" y1="672.5" x2="465.5" y2="663.7" stroke="#c8504a" stroke-width="1" opacity="0.9"/>
<line x1="469.5" y1="672.5" x2="469.5" y2="672.7" stroke="#c8504a" stroke-width="1" opacity="0.9"/>
<line x1="472.5" y1="672.5" x2="472.5" y2="680.1" stroke="#c8504a" stroke-width="1" opacity="0.9"/>
<line x1="476.5" y1="672.5" x2="476.5" y2="686.2" stroke="#c8504a" stroke-width="1" opacity="0.9"/>
<line x1="479.5" y1="672.5" x2="479.5" y2="691.8" stroke="#c8504a" stroke-width="1" opacity="0.9"/>
<line x1="483.5" y1="672.5" x2="483.5" y2="694.9" stroke="#c8504a" stroke-width="1" opacity="0.9"/>
<line x1="486.5" y1="672.5" x2="486.5" y2="694.6" stroke="#c8504a" stroke-width="1" opacity="0.9"/>
<line x1="490.5" y1="672.5" x2="490.5" y2="693.3" stroke="#c8504a" stroke-width="1" opacity="0.9"/>
<line x1="493.5" y1="672.5" x2="493.5" y2="690.0" stroke="#c8504a" stroke-width="1" opacity="0.9"/>
<line x1="497.5" y1="672.5" x2="497.5" y2="686.3" stroke="#c8504a" stroke-width="1" opacity="0.9"/>
<line x1="501.5" y1="672.5" x2="501.5" y2="683.1" stroke="#c8504a" stroke-width="1" opacity="0.9"/>
<line x1="504.5" y1="672.5" x2="504.5" y2="681.2" stroke="#c8504a" stroke-width="1" opacity="0.9"/>
<line x1="508.5" y1="672.5" x2="508.5" y2="679.3" stroke="#c8504a" stroke-width="1" opacity="0.9"/>
<line x1="511.5" y1="672.5" x2="511.5" y2="676.6" stroke="#c8504a" stroke-width="1" opacity="0.9"/>
<line x1="515.5" y1="672.5" x2="515.5" y2="673.6" stroke="#c8504a" stroke-width="1" opacity="0.9"/>
<line x1="518.5" y1="672.5" x2="518.5" y2="672.2" stroke="#c8504a" stroke-width="1" opacity="0.9"/>
<line x1="522.5" y1="672.5" x2="522.5" y2="672.8" stroke="#c8504a" stroke-width="1" opacity="0.9"/>
<line x1="525.5" y1="672.5" x2="525.5" y2="672.3" stroke="#c8504a" stroke-width="1" opacity="0.9"/>
<line x1="529.5" y1="672.5" x2="529.5" y2="671.5" stroke="#c8504a" stroke-width="1" opacity="0.9"/>
<line x1="532.5" y1="672.5" x2="532.5" y2="669.3" stroke="#c8504a" stroke-width="1" opacity="0.9"/>
<line x1="536.5" y1="672.5" x2="536.5" y2="670.8" stroke="#c8504a" stroke-width="1" opacity="0.9"/>
<line x1="539.5" y1="672.5" x2="539.5" y2="672.1" stroke="#c8504a" stroke-width="1" opacity="0.9"/>
<line x1="543.5" y1="672.5" x2="543.5" y2="672.4" stroke="#c8504a" stroke-width="1" opacity="0.9"/>
<line x1="547.5" y1="672.5" x2="547.5" y2="672.5" stroke="#c8504a" stroke-width="1" opacity="0.9"/>
<line x1="550.5" y1="672.5" x2="550.5" y2="672.1" stroke="#c8504a" stroke-width="1" opacity="0.9"/>
<line x1="554.5" y1="672.5" x2="554.5" y2="672.0" stroke="#c8504a" stroke-width="1" opacity="0.9"/>
<line x1="557.5" y1="672.5" x2="557.5" y2="671.5" stroke="#c8504a" stroke-width="1" opacity="0.9"/>
<line x1="561.5" y1="672.5" x2="561.5" y2="669.5" stroke="#c8504a" stroke-width="1" opacity="0.9"/>
<line x1="564.5" y1="672.5" x2="564.5" y2="667.1" stroke="#c8504a" stroke-width="1" opacity="0.9"/>
<line x1="568.5" y1="672.5" x2="568.5" y2="663.9" stroke="#c8504a" stroke-width="1" opacity="0.9"/>
<line x1="571.5" y1="672.5" x2="571.5" y2="661.2" stroke="#c8504a" stroke-width="1" opacity="0.9"/>
<line x1="575.5" y1="672.5" x2="575.5" y2="658.3" stroke="#c8504a" stroke-width="1" opacity="0.9"/>
<line x1="578.5" y1="672.5" x2="578.5" y2="659.3" stroke="#c8504a" stroke-width="1" opacity="0.9"/>
<line x1="582.5" y1="672.5" x2="582.5" y2="661.3" stroke="#c8504a" stroke-width="1" opacity="0.9"/>
<line x1="586.5" y1="672.5" x2="586.5" y2="662.5" stroke="#c8504a" stroke-width="1" opacity="0.9"/>
<line x1="589.5" y1="672.5" x2="589.5" y2="664.7" stroke="#c8504a" stroke-width="1" opacity="0.9"/>
<line x1="593.5" y1="672.5" x2="593.5" y2="669.3" stroke="#c8504a" stroke-width="1" opacity="0.9"/>
<line x1="596.5" y1="672.5" x2="596.5" y2="671.0" stroke="#c8504a" stroke-width="1" opacity="0.9"/>
<line x1="600.5" y1="672.5" x2="600.5" y2="672.2" stroke="#c8504a" stroke-width="1" opacity="0.9"/>
<line x1="603.5" y1="672.5" x2="603.5" y2="673.9" stroke="#c8504a" stroke-width="1" opacity="0.9"/>
<line x1="607.5" y1="672.5" x2="607.5" y2="674.3" stroke="#c8504a" stroke-width="1" opacity="0.9"/>
<line x1="610.5" y1="672.5" x2="610.5" y2="672.2" stroke="#c8504a" stroke-width="1" opacity="0.9"/>
<line x1="614.5" y1="672.5" x2="614.5" y2="671.0" stroke="#c8504a" stroke-width="1" opacity="0.9"/>
<line x1="617.5" y1="672.5" x2="617.5" y2="671.3" stroke="#c8504a" stroke-width="1" opacity="0.9"/>
<line x1="621.5" y1="672.5" x2="621.5" y2="675.6" stroke="#c8504a" stroke-width="1" opacity="0.9"/>
<line x1="625.5" y1="672.5" x2="625.5" y2="679.2" stroke="#c8504a" stroke-width="1" opacity="0.9"/>
<line x1="628.5" y1="672.5" x2="628.5" y2="679.8" stroke="#c8504a" stroke-width="1" opacity="0.9"/>
<line x1="632.5" y1="672.5" x2="632.5" y2="677.9" stroke="#c8504a" stroke-width="1" opacity="0.9"/>
<line x1="635.5" y1="672.5" x2="635.5" y2="677.0" stroke="#c8504a" stroke-width="1" opacity="0.9"/>
<line x1="639.5" y1="672.5" x2="639.5" y2="677.2" stroke="#c8504a" stroke-width="1" opacity="0.9"/>
<line x1="642.5" y1="672.5" x2="642.5" y2="676.8" stroke="#c8504a" stroke-width="1" opacity="0.9"/>
<line x1="646.5" y1="672.5" x2="646.5" y2="676.4" stroke="#c8504a" stroke-width="1" opacity="0.9"/>
<line x1="649.5" y1="672.5" x2="649.5" y2="675.1" stroke="#c8504a" stroke-width="1" opacity="0.9"/>
<line x1="653.5" y1="672.5" x2="653.5" y2="675.2" stroke="#c8504a" stroke-width="1" opacity="0.9"/>
<line x1="656.5" y1="672.5" x2="656.5" y2="675.5" stroke="#c8504a" stroke-width="1" opacity="0.9"/>
<line x1="660.5" y1="672.5" x2="660.5" y2="677.3" stroke="#c8504a" stroke-width="1" opacity="0.9"/>
<line x1="663.5" y1="672.5" x2="663.5" y2="678.7" stroke="#c8504a" stroke-width="1" opacity="0.9"/>
<line x1="667.5" y1="672.5" x2="667.5" y2="679.0" stroke="#c8504a" stroke-width="1" opacity="0.9"/>
<line x1="671.5" y1="672.5" x2="671.5" y2="677.7" stroke="#c8504a" stroke-width="1" opacity="0.9"/>
<line x1="674.5" y1="672.5" x2="674.5" y2="675.3" stroke="#c8504a" stroke-width="1" opacity="0.9"/>
<line x1="678.5" y1="672.5" x2="678.5" y2="675.0" stroke="#c8504a" stroke-width="1" opacity="0.9"/>
<line x1="681.5" y1="672.5" x2="681.5" y2="674.6" stroke="#c8504a" stroke-width="1" opacity="0.9"/>
<line x1="685.5" y1="672.5" x2="685.5" y2="673.8" stroke="#c8504a" stroke-width="1" opacity="0.9"/>
<line x1="688.5" y1="672.5" x2="688.5" y2="673.3" stroke="#c8504a" stroke-width="1" opacity="0.9"/>
<line x1="692.5" y1="672.5" x2="692.5" y2="674.0" stroke="#c8504a" stroke-width="1" opacity="0.9"/>
<line x1="695.5" y1="672.5" x2="695.5" y2="673.8" stroke="#c8504a" stroke-width="1" opacity="0.9"/>
<line x1="699.5" y1="672.5" x2="699.5" y2="673.9" stroke="#c8504a" stroke-width="1" opacity="0.9"/>
<line x1="702.5" y1="672.5" x2="702.5" y2="673.8" stroke="#c8504a" stroke-width="1" opacity="0.9"/>
<line x1="706.5" y1="672.5" x2="706.5" y2="673.5" stroke="#c8504a" stroke-width="1" opacity="0.9"/>
<line x1="710.5" y1="672.5" x2="710.5" y2="672.6" stroke="#c8504a" stroke-width="1" opacity="0.9"/>
<line x1="713.5" y1="672.5" x2="713.5" y2="673.5" stroke="#c8504a" stroke-width="1" opacity="0.9"/>
<line x1="717.5" y1="672.5" x2="717.5" y2="674.6" stroke="#c8504a" stroke-width="1" opacity="0.9"/>
<line x1="720.5" y1="672.5" x2="720.5" y2="677.0" stroke="#c8504a" stroke-width="1" opacity="0.9"/>
<line x1="724.5" y1="672.5" x2="724.5" y2="680.1" stroke="#c8504a" stroke-width="1" opacity="0.9"/>
<line x1="727.5" y1="672.5" x2="727.5" y2="685.1" stroke="#c8504a" stroke-width="1" opacity="0.9"/>
<line x1="731.5" y1="672.5" x2="731.5" y2="690.2" stroke="#c8504a" stroke-width="1" opacity="0.9"/>
<line x1="734.5" y1="672.5" x2="734.5" y2="693.4" stroke="#c8504a" stroke-width="1" opacity="0.9"/>
<line x1="738.5" y1="672.5" x2="738.5" y2="692.1" stroke="#c8504a" stroke-width="1" opacity="0.9"/>
<line x1="741.5" y1="672.5" x2="741.5" y2="691.7" stroke="#c8504a" stroke-width="1" opacity="0.9"/>
<line x1="745.5" y1="672.5" x2="745.5" y2="687.7" stroke="#c8504a" stroke-width="1" opacity="0.9"/>
<line x1="749.5" y1="672.5" x2="749.5" y2="684.4" stroke="#c8504a" stroke-width="1" opacity="0.9"/>
<line x1="752.5" y1="672.5" x2="752.5" y2="681.9" stroke="#c8504a" stroke-width="1" opacity="0.9"/>
<line x1="756.5" y1="672.5" x2="756.5" y2="682.0" stroke="#c8504a" stroke-width="1" opacity="0.9"/>
<line x1="759.5" y1="672.5" x2="759.5" y2="680.8" stroke="#c8504a" stroke-width="1" opacity="0.9"/>
<line x1="763.5" y1="672.5" x2="763.5" y2="680.5" stroke="#c8504a" stroke-width="1" opacity="0.9"/>
<line x1="766.5" y1="672.5" x2="766.5" y2="679.3" stroke="#c8504a" stroke-width="1" opacity="0.9"/>
<line x1="770.5" y1="672.5" x2="770.5" y2="678.9" stroke="#c8504a" stroke-width="1" opacity="0.9"/>
<line x1="773.5" y1="672.5" x2="773.5" y2="679.4" stroke="#c8504a" stroke-width="1" opacity="0.9"/>
<line x1="777.5" y1="672.5" x2="777.5" y2="679.6" stroke="#c8504a" stroke-width="1" opacity="0.9"/>
<line x1="780.5" y1="672.5" x2="780.5" y2="678.6" stroke="#c8504a" stroke-width="1" opacity="0.9"/>
<line x1="784.5" y1="672.5" x2="784.5" y2="676.5" stroke="#c8504a" stroke-width="1" opacity="0.9"/>
<line x1="787.5" y1="672.5" x2="787.5" y2="672.7" stroke="#c8504a" stroke-width="1" opacity="0.9"/>
<line x1="791.5" y1="672.5" x2="791.5" y2="669.5" stroke="#c8504a" stroke-width="1" opacity="0.9"/>
<line x1="795.5" y1="672.5" x2="795.5" y2="667.3" stroke="#c8504a" stroke-width="1" opacity="0.9"/>
<line x1="798.5" y1="672.5" x2="798.5" y2="667.2" stroke="#c8504a" stroke-width="1" opacity="0.9"/>
<line x1="802.5" y1="672.5" x2="802.5" y2="666.1" stroke="#c8504a" stroke-width="1" opacity="0.9"/>
<line x1="805.5" y1="672.5" x2="805.5" y2="664.9" stroke="#c8504a" stroke-width="1" opacity="0.9"/>
<line x1="809.5" y1="672.5" x2="809.5" y2="664.3" stroke="#c8504a" stroke-width="1" opacity="0.9"/>
<line x1="812.5" y1="672.5" x2="812.5" y2="663.6" stroke="#c8504a" stroke-width="1" opacity="0.9"/>
<line x1="816.5" y1="672.5" x2="816.5" y2="661.9" stroke="#c8504a" stroke-width="1" opacity="0.9"/>
<line x1="819.5" y1="672.5" x2="819.5" y2="661.3" stroke="#c8504a" stroke-width="1" opacity="0.9"/>
<line x1="823.5" y1="672.5" x2="823.5" y2="661.3" stroke="#c8504a" stroke-width="1" opacity="0.9"/>
<line x1="826.5" y1="672.5" x2="826.5" y2="662.2" stroke="#c8504a" stroke-width="1" opacity="0.9"/>
<line x1="830.5" y1="672.5" x2="830.5" y2="663.3" stroke="#c8504a" stroke-width="1" opacity="0.9"/>
<line x1="834.5" y1="672.5" x2="834.5" y2="664.5" stroke="#c8504a" stroke-width="1" opacity="0.9"/>
<line x1="837.5" y1="672.5" x2="837.5" y2="666.0" stroke="#c8504a" stroke-width="1" opacity="0.9"/>
<line x1="841.5" y1="672.5" x2="841.5" y2="666.1" stroke="#c8504a" stroke-width="1" opacity="0.9"/>
<line x1="844.5" y1="672.5" x2="844.5" y2="666.4" stroke="#c8504a" stroke-width="1" opacity="0.9"/>
<line x1="848.5" y1="672.5" x2="848.5" y2="665.6" stroke="#c8504a" stroke-width="1" opacity="0.9"/>
<line x1="851.5" y1="672.5" x2="851.5" y2="664.5" stroke="#c8504a" stroke-width="1" opacity="0.9"/>
<line x1="855.5" y1="672.5" x2="855.5" y2="663.7" stroke="#c8504a" stroke-width="1" opacity="0.9"/>
<line x1="858.5" y1="672.5" x2="858.5" y2="662.8" stroke="#c8504a" stroke-width="1" opacity="0.9"/>
<line x1="862.5" y1="672.5" x2="862.5" y2="662.2" stroke="#c8504a" stroke-width="1" opacity="0.9"/>
<line x1="865.5" y1="672.5" x2="865.5" y2="663.0" stroke="#c8504a" stroke-width="1" opacity="0.9"/>
<line x1="869.5" y1="672.5" x2="869.5" y2="663.0" stroke="#c8504a" stroke-width="1" opacity="0.9"/>
<line x1="873.5" y1="672.5" x2="873.5" y2="662.5" stroke="#c8504a" stroke-width="1" opacity="0.9"/>
<line x1="876.5" y1="672.5" x2="876.5" y2="662.1" stroke="#c8504a" stroke-width="1" opacity="0.9"/>
<line x1="880.5" y1="672.5" x2="880.5" y2="662.1" stroke="#c8504a" stroke-width="1" opacity="0.9"/>
<line x1="883.5" y1="672.5" x2="883.5" y2="663.8" stroke="#c8504a" stroke-width="1" opacity="0.9"/>
<line x1="887.5" y1="672.5" x2="887.5" y2="664.7" stroke="#c8504a" stroke-width="1" opacity="0.9"/>
<line x1="890.5" y1="672.5" x2="890.5" y2="664.7" stroke="#c8504a" stroke-width="1" opacity="0.9"/>
<line x1="894.5" y1="672.5" x2="894.5" y2="666.7" stroke="#c8504a" stroke-width="1" opacity="0.9"/>
<line x1="897.5" y1="672.5" x2="897.5" y2="672.0" stroke="#c8504a" stroke-width="1" opacity="0.9"/>
<line x1="901.5" y1="672.5" x2="901.5" y2="676.5" stroke="#c8504a" stroke-width="1" opacity="0.9"/>
<line x1="904.5" y1="672.5" x2="904.5" y2="677.5" stroke="#c8504a" stroke-width="1" opacity="0.9"/>
<line x1="908.5" y1="672.5" x2="908.5" y2="677.0" stroke="#c8504a" stroke-width="1" opacity="0.9"/>
<line x1="911.5" y1="672.5" x2="911.5" y2="676.2" stroke="#c8504a" stroke-width="1" opacity="0.9"/>
<line x1="915.5" y1="672.5" x2="915.5" y2="674.6" stroke="#c8504a" stroke-width="1" opacity="0.9"/>
<line x1="919.5" y1="672.5" x2="919.5" y2="675.3" stroke="#c8504a" stroke-width="1" opacity="0.9"/>
<line x1="922.5" y1="672.5" x2="922.5" y2="675.2" stroke="#c8504a" stroke-width="1" opacity="0.9"/>
<line x1="926.5" y1="672.5" x2="926.5" y2="675.4" stroke="#c8504a" stroke-width="1" opacity="0.9"/>
<line x1="929.5" y1="672.5" x2="929.5" y2="676.5" stroke="#c8504a" stroke-width="1" opacity="0.9"/>
<line x1="933.5" y1="672.5" x2="933.5" y2="676.9" stroke="#c8504a" stroke-width="1" opacity="0.9"/>
<line x1="936.5" y1="672.5" x2="936.5" y2="677.1" stroke="#c8504a" stroke-width="1" opacity="0.9"/>
<line x1="940.5" y1="672.5" x2="940.5" y2="676.6" stroke="#c8504a" stroke-width="1" opacity="0.9"/>
<line x1="943.5" y1="672.5" x2="943.5" y2="675.3" stroke="#c8504a" stroke-width="1" opacity="0.9"/>
<line x1="947.5" y1="672.5" x2="947.5" y2="676.3" stroke="#c8504a" stroke-width="1" opacity="0.9"/>
<line x1="950.5" y1="672.5" x2="950.5" y2="678.3" stroke="#c8504a" stroke-width="1" opacity="0.9"/>
<line x1="954.5" y1="672.5" x2="954.5" y2="684.4" stroke="#c8504a" stroke-width="1" opacity="0.9"/>
<line x1="958.5" y1="672.5" x2="958.5" y2="687.3" stroke="#c8504a" stroke-width="1" opacity="0.9"/>
<line x1="961.5" y1="672.5" x2="961.5" y2="685.9" stroke="#c8504a" stroke-width="1" opacity="0.9"/>
<line x1="965.5" y1="672.5" x2="965.5" y2="683.4" stroke="#c8504a" stroke-width="1" opacity="0.9"/>
<line x1="968.5" y1="672.5" x2="968.5" y2="680.9" stroke="#c8504a" stroke-width="1" opacity="0.9"/>
<line x1="972.5" y1="672.5" x2="972.5" y2="678.5" stroke="#c8504a" stroke-width="1" opacity="0.9"/>
<line x1="975.5" y1="672.5" x2="975.5" y2="677.3" stroke="#c8504a" stroke-width="1" opacity="0.9"/>
<line x1="979.5" y1="672.5" x2="979.5" y2="676.8" stroke="#c8504a" stroke-width="1" opacity="0.9"/>
<line x1="982.5" y1="672.5" x2="982.5" y2="673.8" stroke="#c8504a" stroke-width="1" opacity="0.9"/>
<line x1="986.5" y1="672.5" x2="986.5" y2="670.9" stroke="#c8504a" stroke-width="1" opacity="0.9"/>
<line x1="989.5" y1="672.5" x2="989.5" y2="668.1" stroke="#c8504a" stroke-width="1" opacity="0.9"/>
<line x1="993.5" y1="672.5" x2="993.5" y2="664.1" stroke="#c8504a" stroke-width="1" opacity="0.9"/>
<line x1="997.5" y1="672.5" x2="997.5" y2="662.5" stroke="#c8504a" stroke-width="1" opacity="0.9"/>
<line x1="1000.5" y1="672.5" x2="1000.5" y2="661.1" stroke="#c8504a" stroke-width="1" opacity="0.9"/>
<line x1="1004.5" y1="672.5" x2="1004.5" y2="660.2" stroke="#c8504a" stroke-width="1" opacity="0.9"/>
<line x1="1007.5" y1="672.5" x2="1007.5" y2="659.7" stroke="#c8504a" stroke-width="1" opacity="0.9"/>
<line x1="1011.5" y1="672.5" x2="1011.5" y2="659.0" stroke="#c8504a" stroke-width="1" opacity="0.9"/>
<line x1="1014.5" y1="672.5" x2="1014.5" y2="660.2" stroke="#c8504a" stroke-width="1" opacity="0.9"/>
<line x1="1018.5" y1="672.5" x2="1018.5" y2="660.3" stroke="#c8504a" stroke-width="1" opacity="0.9"/>
<line x1="1021.5" y1="672.5" x2="1021.5" y2="659.8" stroke="#c8504a" stroke-width="1" opacity="0.9"/>
<line x1="1025.5" y1="672.5" x2="1025.5" y2="663.4" stroke="#c8504a" stroke-width="1" opacity="0.9"/>
<line x1="1028.5" y1="672.5" x2="1028.5" y2="664.5" stroke="#c8504a" stroke-width="1" opacity="0.9"/>
<line x1="1032.5" y1="672.5" x2="1032.5" y2="662.8" stroke="#c8504a" stroke-width="1" opacity="0.9"/>
<line x1="1035.5" y1="672.5" x2="1035.5" y2="661.0" stroke="#c8504a" stroke-width="1" opacity="0.9"/>
<line x1="1039.5" y1="672.5" x2="1039.5" y2="654.6" stroke="#c8504a" stroke-width="1" opacity="0.9"/>
<polyline points="203.4,678.5 206.9,677.7 210.5,676.8 214.0,676.0 217.6,675.4 221.1,674.7 224.6,673.9 228.2,673.0 231.7,672.4 235.3,672.1 238.8,672.0 242.4,671.8 245.9,671.9 249.4,671.8 253.0,671.7 256.5,671.6 260.1,671.5 263.6,671.3 267.2,671.1 270.7,670.7 274.2,670.3 277.8,669.7 281.3,668.9 284.9,668.2 288.4,667.3 292.0,666.3 295.5,665.0 299.1,663.5 302.6,662.1 306.1,661.2 309.7,660.3 313.2,659.2 316.8,657.9 320.3,656.7 323.9,655.8 327.4,654.7 330.9,653.6 334.5,652.0 338.0,650.5 341.6,649.5 345.1,649.1 348.7,648.8 352.2,648.4 355.7,648.1 359.3,647.9 362.8,647.6 366.4,647.5 369.9,647.5 373.5,647.4 377.0,647.5 380.5,648.0 384.1,648.7 387.6,649.4 391.2,650.3 394.7,651.4 398.3,652.4 401.8,653.4 405.3,654.3 408.9,655.0 412.4,655.6 416.0,656.0 419.5,656.5 423.1,656.8 426.6,656.7 430.1,656.1 433.7,655.2 437.2,653.9 440.8,652.2 444.3,650.4 447.9,648.2 451.4,644.8 454.9,640.2 458.5,635.9 462.0,632.3 465.6,630.1 469.1,630.2 472.7,632.1 476.2,635.5 479.7,640.3 483.3,645.9 486.8,651.4 490.4,656.6 493.9,661.0 497.5,664.5 501.0,667.1 504.5,669.3 508.1,671.0 511.6,672.0 515.2,672.3 518.7,672.2 522.3,672.3 525.8,672.2 529.3,672.0 532.9,671.2 536.4,670.8 540.0,670.7 543.5,670.6 547.1,670.6 550.6,670.5 554.1,670.4 557.7,670.1 561.2,669.4 564.8,668.1 568.3,665.9 571.9,663.1 575.4,659.5 578.9,656.2 582.5,653.4 586.0,650.9 589.6,649.0 593.1,648.2 596.7,647.8 600.2,647.8 603.7,648.1 607.3,648.5 610.8,648.4 614.4,648.1 617.9,647.8 621.5,648.6 625.0,650.2 628.6,652.1 632.1,653.4 635.6,654.5 639.2,655.7 642.7,656.8 646.3,657.8 649.8,658.4 653.4,659.1 656.9,659.8 660.4,661.0 664.0,662.6 667.5,664.2 671.1,665.5 674.6,666.2 678.2,666.9 681.7,667.4 685.2,667.7 688.8,667.9 692.3,668.3 695.9,668.6 699.4,668.9 703.0,669.3 706.5,669.5 710.0,669.6 713.6,669.8 717.1,670.3 720.7,671.4 724.2,673.3 727.8,676.5 731.3,680.9 734.8,686.1 738.4,691.0 741.9,695.8 745.5,699.6 749.0,702.6 752.6,705.0 756.1,707.3 759.6,709.4 763.2,711.4 766.7,713.1 770.3,714.7 773.8,716.4 777.4,718.2 780.9,719.7 784.4,720.7 788.0,720.8 791.5,720.0 795.1,718.7 798.6,717.4 802.2,715.8 805.7,713.9 809.2,711.9 812.8,709.6 816.3,707.0 819.9,704.2 823.4,701.4 827.0,698.8 830.5,696.5 834.0,694.5 837.6,692.9 841.1,691.3 844.7,689.7 848.2,688.0 851.8,686.0 855.3,683.8 858.8,681.4 862.4,678.8 865.9,676.5 869.5,674.1 873.0,671.6 876.6,669.0 880.1,666.4 883.6,664.2 887.2,662.3 890.7,660.3 894.3,658.9 897.8,658.7 901.4,659.7 904.9,661.0 908.4,662.1 912.0,663.0 915.5,663.6 919.1,664.3 922.6,664.9 926.2,665.7 929.7,666.7 933.2,667.8 936.8,668.9 940.3,669.9 943.9,670.6 947.4,671.6 951.0,673.0 954.5,676.0 958.0,679.7 961.6,683.1 965.1,685.8 968.7,687.9 972.2,689.4 975.8,690.6 979.3,691.6 982.9,692.0 986.4,691.6 989.9,690.5 993.5,688.4 997.0,685.8 1000.6,683.0 1004.1,679.9 1007.7,676.7 1011.2,673.4 1014.7,670.3 1018.3,667.3 1021.8,664.1 1025.4,661.8 1028.9,659.8 1032.5,657.3 1036.0,654.5 1039.5,650.0" fill="none" stroke="#e8404a" stroke-width="1" stroke-linejoin="round"/>
<polyline points="175.0,679.4 178.6,680.1 182.1,680.6 185.7,680.4 189.2,678.9 192.8,677.7 196.3,677.1 199.8,676.3 203.4,675.6 206.9,674.5 210.5,673.2 214.0,673.0 217.6,672.9 221.1,672.1 224.6,670.6 228.2,669.4 231.7,670.0 235.3,671.1 238.8,671.3 242.4,671.2 245.9,672.2 249.4,671.4 253.0,671.4 256.5,671.2 260.1,671.0 263.6,670.6 267.2,670.2 270.7,669.2 274.2,668.7 277.8,667.4 281.3,665.8 284.9,665.4 288.4,663.5 292.0,662.4 295.5,659.7 299.1,657.4 302.6,656.8 306.1,657.5 309.7,656.6 313.2,655.0 316.8,652.6 320.3,652.1 323.9,651.9 327.4,650.7 330.9,648.9 334.5,645.8 338.0,644.5 341.6,645.4 345.1,647.4 348.7,647.8 352.2,646.6 355.7,646.8 359.3,647.2 362.8,646.6 366.4,647.1 369.9,647.5 373.5,647.0 377.0,647.6 380.5,649.9 384.1,651.6 387.6,652.2 391.2,653.8 394.7,655.9 398.3,656.5 401.8,657.2 405.3,657.8 408.9,658.0 412.4,657.8 416.0,657.8 419.5,658.5 423.1,658.2 426.6,656.2 430.1,653.8 433.7,651.4 437.2,649.0 440.8,645.2 444.3,643.4 447.9,639.5 451.4,631.2 454.9,621.7 458.5,618.5 462.0,618.2 465.6,621.4 469.1,630.4 472.7,639.7 476.2,649.2 479.7,659.6 483.3,668.3 486.8,673.5 490.4,677.5 493.9,678.5 497.5,678.3 501.0,677.7 504.5,677.9 508.1,677.8 511.6,676.1 515.2,673.4 518.7,671.9 522.3,672.6 525.8,672.1 529.3,671.0 532.9,668.0 536.4,669.0 540.0,670.3 543.5,670.5 547.1,670.7 550.6,670.1 554.1,669.9 557.7,669.1 561.2,666.4 564.8,662.6 568.3,657.3 571.9,651.7 575.4,645.4 578.9,643.1 582.5,642.2 586.0,641.0 589.6,641.2 593.1,645.0 596.7,646.3 600.2,647.5 603.7,649.4 607.3,650.3 610.8,648.1 614.4,646.6 617.9,646.6 621.5,651.7 625.0,656.9 628.6,659.3 632.1,658.8 635.6,659.1 639.2,660.5 642.7,661.1 646.3,661.6 649.8,661.0 653.4,661.8 656.9,662.9 660.4,665.9 664.0,668.8 667.5,670.7 671.1,670.7 674.6,669.1 678.2,669.3 681.7,669.5 685.2,669.0 688.8,668.8 692.3,669.8 695.9,669.9 699.4,670.3 703.0,670.6 706.5,670.5 710.0,669.7 713.6,670.7 717.1,672.4 720.7,675.9 724.2,681.0 727.8,689.1 731.3,698.7 734.8,707.0 738.4,710.6 741.9,715.0 745.5,714.8 749.0,714.5 752.6,714.3 756.1,716.8 759.6,717.6 763.2,719.4 766.7,719.8 770.3,721.0 773.8,723.3 777.4,725.3 780.9,725.8 784.4,724.7 788.0,721.0 791.5,717.1 795.1,713.5 798.6,712.1 802.2,709.4 805.7,706.3 809.2,703.7 812.8,700.7 816.3,696.4 819.9,693.0 823.4,690.2 827.0,688.5 830.5,687.3 834.0,686.5 837.6,686.4 841.1,684.9 844.7,683.6 848.2,681.2 851.8,678.1 855.3,675.0 858.8,671.7 862.4,668.5 865.9,667.0 869.5,664.6 873.0,661.6 876.6,658.6 880.1,656.0 883.6,655.5 887.2,654.5 890.7,652.5 894.3,653.1 897.8,658.2 901.4,663.7 904.9,666.0 908.4,666.7 912.0,666.7 915.5,665.6 919.1,667.0 922.6,667.7 926.2,668.6 929.7,670.7 933.2,672.2 936.8,673.5 940.3,674.0 943.9,673.4 947.4,675.3 951.0,678.8 954.5,687.9 958.0,694.5 961.6,696.4 965.1,696.7 968.7,696.2 972.2,695.4 975.8,695.4 979.3,695.9 982.9,693.3 986.4,689.9 989.9,686.0 993.5,679.9 997.0,675.8 1000.6,671.7 1004.1,667.6 1007.7,663.9 1011.2,659.9 1014.7,658.0 1018.3,655.1 1021.8,651.4 1025.4,652.7 1028.9,651.8 1032.5,647.6 1036.0,642.9 1039.5,632.0" fill="none" stroke="#4848e0" stroke-width="1" stroke-linejoin="round"/>
<rect x="1136" y="205" width="50" height="557" fill="#fff"/>
<line x1="1186.5" y1="205" x2="1186.5" y2="762" stroke="#dfe2e8" stroke-width="1"/>
<line x1="83" y1="204.5" x2="1187" y2="204.5" stroke="#d9dce2" stroke-width="1"/>
<line x1="84" y1="761.5" x2="1186" y2="761.5" stroke="#dfe2e8" stroke-width="1"/>
<line x1="83.5" y1="204" x2="83.5" y2="762" stroke="#d9dce2" stroke-width="1"/>
<line x1="1135.5" y1="205" x2="1135.5" y2="762" stroke="#50535a" stroke-width="1.3"/>
<line x1="84" y1="470.5" x2="1186" y2="470.5" stroke="#50535a" stroke-width="1.3"/>
<line x1="84" y1="603.5" x2="1186" y2="603.5" stroke="#50535a" stroke-width="1.3"/>
<line x1="84" y1="736.5" x2="1186" y2="736.5" stroke="#50535a" stroke-width="1.3"/>
<line x1="1135" y1="448.5" x2="1140" y2="448.5" stroke="#50535a" stroke-width="1"/>
<text x="1144" y="452.5" font-family="Liberation Sans, sans-serif" font-size="11" fill="#555a62">0.00</text>
<line x1="1135" y1="418.5" x2="1140" y2="418.5" stroke="#50535a" stroke-width="1"/>
<text x="1144" y="422.5" font-family="Liberation Sans, sans-serif" font-size="11" fill="#555a62">20.00</text>
<line x1="1135" y1="388.5" x2="1140" y2="388.5" stroke="#50535a" stroke-width="1"/>
<text x="1144" y="392.5" font-family="Liberation Sans, sans-serif" font-size="11" fill="#555a62">40.00</text>
<line x1="1135" y1="358.5" x2="1140" y2="358.5" stroke="#50535a" stroke-width="1"/>
<text x="1144" y="362.5" font-family="Liberation Sans, sans-serif" font-size="11" fill="#555a62">60.00</text>
<line x1="1135" y1="328.5" x2="1140" y2="328.5" stroke="#50535a" stroke-width="1"/>
<text x="1144" y="332.5" font-family="Liberation Sans, sans-serif" font-size="11" fill="#555a62">80.00</text>
<line x1="1135" y1="298.5" x2="1140" y2="298.5" stroke="#50535a" stroke-width="1"/>
<text x="1144" y="302.5" font-family="Liberation Sans, sans-serif" font-size="11" fill="#555a62">100.00</text>
<line x1="1135" y1="269.5" x2="1140" y2="269.5" stroke="#50535a" stroke-width="1"/>
<text x="1144" y="273.5" font-family="Liberation Sans, sans-serif" font-size="11" fill="#555a62">120.00</text>
<line x1="1135" y1="239.5" x2="1140" y2="239.5" stroke="#50535a" stroke-width="1"/>
<text x="1144" y="243.5" font-family="Liberation Sans, sans-serif" font-size="11" fill="#555a62">140.00</text>
<line x1="1135" y1="209.5" x2="1140" y2="209.5" stroke="#50535a" stroke-width="1"/>
<text x="1144" y="213.5" font-family="Liberation Sans, sans-serif" font-size="11" fill="#555a62">160.00</text>
<line x1="1135" y1="506.5" x2="1140" y2="506.5" stroke="#50535a" stroke-width="1"/>
<text x="1144" y="510.5" font-family="Liberation Sans, sans-serif" font-size="11" fill="#555a62">80.00</text>
<line x1="1135" y1="549.5" x2="1140" y2="549.5" stroke="#50535a" stroke-width="1"/>
<text x="1144" y="553.5" font-family="Liberation Sans, sans-serif" font-size="11" fill="#555a62">40.00</text>
<line x1="1135" y1="592.5" x2="1140" y2="592.5" stroke="#50535a" stroke-width="1"/>
<text x="1144" y="596.5" font-family="Liberation Sans, sans-serif" font-size="11" fill="#555a62">0.00</text>
<line x1="1135" y1="605.5" x2="1140" y2="605.5" stroke="#50535a" stroke-width="1"/>
<text x="1144" y="609.5" font-family="Liberation Sans, sans-serif" font-size="11" fill="#555a62">20.00</text>
<line x1="1135" y1="639.5" x2="1140" y2="639.5" stroke="#50535a" stroke-width="1"/>
<text x="1144" y="643.5" font-family="Liberation Sans, sans-serif" font-size="11" fill="#555a62">10.00</text>
<line x1="1135" y1="672.5" x2="1140" y2="672.5" stroke="#50535a" stroke-width="1"/>
<text x="1144" y="676.5" font-family="Liberation Sans, sans-serif" font-size="11" fill="#555a62">0.00</text>
<line x1="1135" y1="706.5" x2="1140" y2="706.5" stroke="#50535a" stroke-width="1"/>
<text x="1144" y="710.5" font-family="Liberation Sans, sans-serif" font-size="11" fill="#555a62">−10.00</text>
<rect x="1136" y="251.1" width="50" height="16.8" fill="#dc3f1f"/>
<text x="1144" y="263.4" font-family="Liberation Sans, sans-serif" font-size="11" font-weight="bold" fill="#fff">126.44</text>
<line x1="97.5" y1="736" x2="97.5" y2="741" stroke="#50535a" stroke-width="1"/>
<text x="97.5" y="755" text-anchor="middle" font-family="Liberation Sans, sans-serif" font-size="11" font-weight="bold" fill="#555a62">2000</text>
<line x1="182.5" y1="736" x2="182.5" y2="741" stroke="#50535a" stroke-width="1"/>
<text x="182.5" y="755" text-anchor="middle" font-family="Liberation Sans, sans-serif" font-size="11" font-weight="bold" fill="#555a62">2002</text>
<line x1="267.5" y1="736" x2="267.5" y2="741" stroke="#50535a" stroke-width="1"/>
<text x="267.5" y="755" text-anchor="middle" font-family="Liberation Sans, sans-serif" font-size="11" font-weight="bold" fill="#555a62">2004</text>
<line x1="352.5" y1="736" x2="352.5" y2="741" stroke="#50535a" stroke-width="1"/>
<text x="352.5" y="755" text-anchor="middle" font-family="Liberation Sans, sans-serif" font-size="11" font-weight="bold" fill="#555a62">2006</text>
<line x1="437.5" y1="736" x2="437.5" y2="741" stroke="#50535a" stroke-width="1"/>
<text x="437.5" y="755" text-anchor="middle" font-family="Liberation Sans, sans-serif" font-size="11" font-weight="bold" fill="#555a62">2008</text>
<line x1="522.5" y1="736" x2="522.5" y2="741" stroke="#50535a" stroke-width="1"/>
<text x="522.5" y="755" text-anchor="middle" font-family="Liberation Sans, sans-serif" font-size="11" font-weight="bold" fill="#555a62">2010</text>
<line x1="607.5" y1="736" x2="607.5" y2="741" stroke="#50535a" stroke-width="1"/>
<text x="607.5" y="755" text-anchor="middle" font-family="Liberation Sans, sans-serif" font-size="11" font-weight="bold" fill="#555a62">2012</text>
<line x1="693.5" y1="736" x2="693.5" y2="741" stroke="#50535a" stroke-width="1"/>
<text x="693.5" y="755" text-anchor="middle" font-family="Liberation Sans, sans-serif" font-size="11" font-weight="bold" fill="#555a62">2014</text>
<line x1="778.5" y1="736" x2="778.5" y2="741" stroke="#50535a" stroke-width="1"/>
<text x="778.5" y="755" text-anchor="middle" font-family="Liberation Sans, sans-serif" font-size="11" font-weight="bold" fill="#555a62">2016</text>
<line x1="863.5" y1="736" x2="863.5" y2="741" stroke="#50535a" stroke-width="1"/>
<text x="863.5" y="755" text-anchor="middle" font-family="Liberation Sans, sans-serif" font-size="11" font-weight="bold" fill="#555a62">2018</text>
<line x1="948.5" y1="736" x2="948.5" y2="741" stroke="#50535a" stroke-width="1"/>
<text x="948.5" y="755" text-anchor="middle" font-family="Liberation Sans, sans-serif" font-size="11" font-weight="bold" fill="#555a62">2020</text>
<line x1="1033.5" y1="736" x2="1033.5" y2="741" stroke="#50535a" stroke-width="1"/>
<text x="1033.5" y="755" text-anchor="middle" font-family="Liberation Sans, sans-serif" font-size="11" font-weight="bold" fill="#555a62">2022</text>
<line x1="1118.5" y1="736" x2="1118.5" y2="741" stroke="#50535a" stroke-width="1"/>
<text x="1118.5" y="755" text-anchor="middle" font-family="Liberation Sans, sans-serif" font-size="11" font-weight="bold" fill="#555a62">2024</text>
<circle cx="1160.2" cy="750.6" r="4.5" fill="none" stroke="#222" stroke-width="1.2"/>
<line x1="1165.7" y1="750.6" x2="1167.7" y2="750.6" stroke="#222" stroke-width="1.2"/>
<line x1="1164.1" y1="754.5" x2="1165.5" y2="755.9" stroke="#222" stroke-width="1.2"/>
<line x1="1160.2" y1="756.1" x2="1160.2" y2="758.1" stroke="#222" stroke-width="1.2"/>
<line x1="1156.3" y1="754.5" x2="1154.9" y2="755.9" stroke="#222" stroke-width="1.2"/>
<line x1="1154.7" y1="750.6" x2="1152.7" y2="750.6" stroke="#222" stroke-width="1.2"/>
<line x1="1156.3" y1="746.7" x2="1154.9" y2="745.3" stroke="#222" stroke-width="1.2"/>
<line x1="1160.2" y1="745.1" x2="1160.2" y2="743.1" stroke="#222" stroke-width="1.2"/>
<line x1="1164.1" y1="746.7" x2="1165.5" y2="745.3" stroke="#222" stroke-width="1.2"/>
<g stroke="#4a90d0" stroke-width="1.1"><line x1="41.5" y1="189.5" x2="50" y2="189.5"/><line x1="57" y1="189.5" x2="65.5" y2="189.5"/><line x1="53.5" y1="177.5" x2="53.5" y2="186"/><line x1="53.5" y1="193" x2="53.5" y2="201.5"/></g>
<g stroke="#222" stroke-width="1.1" fill="none"><line x1="45.6" y1="232" x2="59.9" y2="218"/><circle cx="44.2" cy="233.5" r="2"/><circle cx="61.3" cy="216.5" r="2"/></g>
<g stroke="#222" stroke-width="1.1" fill="none"><circle cx="44.5" cy="258.5" r="2"/><circle cx="44.5" cy="269.5" r="2"/><circle cx="55.5" cy="269.5" r="2"/><line x1="46" y1="257" x2="52.7" y2="250.2"/><line x1="46" y1="268" x2="58.6" y2="255.3"/><line x1="45.8" y1="260" x2="54" y2="268"/><line x1="57" y1="268" x2="63.6" y2="261.2"/></g>
<g stroke="#222" stroke-width="1.1" fill="none"><path d="M41.5 305.5 L53 305.5 C56.5 304 57 299 55 296.5 C52.5 294.5 48 296 45.5 300 Z"/><path d="M57.3 289.3 C55.2 290.9 55.2 293.6 57.4 295 C58.5 295.8 59.8 295.6 60.6 294.8 L66.4 289.3"/></g>
<g stroke="#222" stroke-width="1.1" fill="none"><path d="M47 324.5 H60.2 M53.6 324.5 V341.5 M50.5 341.5 H56.7 M47 324.5 V327 M60.2 324.5 V327"/></g>
<g stroke="#222" stroke-width="1.1" fill="none"><path d="M47.4 360.3 L44.4 377.3 L51.5 367.3 L47.4 360.3 M51.5 367.3 L59.5 361.4 L62.4 374.4 L51.5 367.3"/></g>
<g stroke="#222" stroke-width="1.1" fill="#fff"><circle cx="47.4" cy="360.3" r="2"/><circle cx="59.5" cy="361.4" r="2"/><circle cx="51.5" cy="367.3" r="2"/><circle cx="44.4" cy="377.3" r="2"/><circle cx="62.4" cy="374.4" r="2"/></g>
<g stroke="#222" stroke-width="1.1"><line x1="45.3" y1="396.5" x2="64" y2="396.5"/><line x1="45.3" y1="407.5" x2="61.3" y2="407.5"/><line x1="45.3" y1="414.5" x2="64" y2="414.5"/><line x1="53.5" y1="400" x2="53.5" y2="411"/></g>
<g stroke="#222" stroke-width="1.1" fill="#fff"><circle cx="43.3" cy="396.5" r="2"/><circle cx="43.3" cy="407.5" r="2"/><circle cx="43.3" cy="414.5" r="2"/><circle cx="63.3" cy="407.5" r="2"/></g>
<path d="M51 400.8 L53.5 397.8 L56 400.8 Z M51 410.2 L53.5 413.2 L56 410.2 Z" fill="#222"/>
<path d="M60.3 441.8 H50 M53.6 435.4 L47.3 441.8 L53.6 448.2" stroke="#1b2030" stroke-width="3.3" fill="none" stroke-linecap="round" stroke-linejoin="round"/>
<line x1="27" y1="465.5" x2="79" y2="465.5" stroke="#e2e2e2" stroke-width="1"/>
<line x1="27" y1="550.5" x2="79" y2="550.5" stroke="#e2e2e2" stroke-width="1"/>
<line x1="27" y1="707.5" x2="79" y2="707.5" stroke="#e2e2e2" stroke-width="1"/>
<g stroke="#222" stroke-width="1.1" fill="none" transform="rotate(-44 53.1 489.9)"><rect x="40.6" y="486.4" width="25" height="7" rx="1"/><path d="M44.6 486.4 v2.8 M48.6 486.4 v2.8 M52.6 486.4 v2.8 M56.6 486.4 v2.8 M60.6 486.4 v2.8"/></g>
<g stroke="#222" stroke-width="1.1" fill="none"><circle cx="51.8" cy="524.5" r="7.8"/><line x1="57.4" y1="530.1" x2="61.5" y2="534.2"/><line x1="48" y1="524.5" x2="55.6" y2="524.5"/><line x1="51.8" y1="520.7" x2="51.8" y2="528.3"/></g>
<g stroke="#222" stroke-width="1.1" fill="none"><path d="M45.3 583.6 V573.2 A7.85 7.85 0 0 1 61 573.2 V583.6 H55.7 V573.2 A2.65 2.65 0 0 0 50.4 573.2 V583.6 Z M45.3 579.8 H50.4 M55.7 579.8 H61"/></g>
<g stroke="#222" stroke-width="1.1" fill="none" transform="rotate(-43 50.3 608.5)"><path d="M39.7 608.5 L43.7 606 H60.9 V611 H43.7 Z M43.7 608.5 H57.6 M57.6 606 V611"/></g>
<g stroke="#222" stroke-width="1.1" fill="none"><rect x="54.6" y="614.3" width="8.2" height="6.3"/><path d="M56.3 614.3 V611.8 A2.3 2.3 0 0 1 60.9 611.8 V612.3"/></g><rect x="58" y="616.6" width="1.3" height="2.2" fill="#222"/>
<g stroke="#222" stroke-width="1.1" fill="none"><rect x="45.5" y="644.5" width="15.2" height="12.2" rx="1.2"/><path d="M49.6 644.5 V640.4 A3.4 3.4 0 0 1 56.4 640.4 V641.4"/></g><rect x="52.3" y="649.3" width="1.6" height="4" fill="#222"/>
<g stroke="#222" stroke-width="1.1" fill="none"><path d="M43.3 682.8 C47.6 674.6 58.6 674.6 62.9 682.8 C58.6 691 47.6 691 43.3 682.8 Z"/></g><circle cx="53" cy="682.9" r="3.3" fill="#222"/>
<rect x="74" y="680" width="7.5" height="26" rx="2.5" fill="#fff" stroke="#d6d6d6" stroke-width="1"/><path d="M78.8 690 L76.6 693 L78.8 696" stroke="#aaa" stroke-width="0.9" fill="none"/>
<g stroke="#222" stroke-width="1.1" fill="none"><path d="M46.5 725.5 H59.5 M50.5 725.5 V723 H55.5 V725.5 M47.5 726 V741 H58.5 V726 M50.5 728.5 V739 M53 728.5 V739 M55.5 728.5 V739"/></g>
<rect x="27" y="741" width="51.5" height="23" fill="#5f636e"/><path d="M46.3 749.2 L53.5 756.4 L60.7 749.2" stroke="#fff" stroke-width="1.4" fill="none"/>
<g stroke="#1e1e1e" stroke-width="1.3" fill="none"><path d="M91.3 183.6 L95.6 179.1 Q97.1 177.6 98.6 179.1 L101.9 182.6 Q103.4 184.2 104.9 182.6 L109.7 178"/><path d="M108.4 186 V194.8 M104.1 190.3 H112.7"/></g>
<polygon points="1164.92,175.04 1166.68,175.04 1167.72,177.68 1168.91,178.18 1171.51,177.04 1172.76,178.29 1171.62,180.89 1172.12,182.08 1174.76,183.12 1174.76,184.88 1172.12,185.92 1171.62,187.11 1172.76,189.71 1171.51,190.96 1168.91,189.82 1167.72,190.32 1166.68,192.96 1164.92,192.96 1163.88,190.32 1162.69,189.82 1160.09,190.96 1158.84,189.71 1159.98,187.11 1159.48,185.92 1156.84,184.88 1156.84,183.12 1159.48,182.08 1159.98,180.89 1158.84,178.29 1160.09,177.04 1162.69,178.18 1163.88,177.68" fill="none" stroke="#222" stroke-width="1.1" stroke-linejoin="round"/><circle cx="1165.8" cy="184" r="3.0" fill="none" stroke="#222" stroke-width="1.1"/>
</svg>
<div class="lg" style="left:120px;top:214.2px;font-size:16px;color:#5a5e66;">近月倫敦布蘭特原油, 月, GF</div>
<div class="lg" style="left:359.3px;top:214.2px;font-size:15px;color:#5a5e66;">開=<span style="color:#d0432a">98.43</span></div>
<div class="lg" style="left:434px;top:214.2px;font-size:15px;color:#5a5e66;">高=<span style="color:#d0432a">139.13</span></div>
<div class="lg" style="left:514.3px;top:214.2px;font-size:15px;color:#5a5e66;">低=<span style="color:#d0432a">98.30</span></div>
<div class="lg" style="left:589px;top:214.2px;font-size:15px;color:#5a5e66;">收=<span style="color:#d0432a">126.44</span></div>
<div class="lg" style="left:671.9px;top:214.2px;font-size:15px;color:#d0432a;">+25.45 (+25.20%)</div>
<div class="lg" style="left:96.4px;top:241.0px;font-size:12.5px;color:#5a5e66;">Volume (20)</div>
<div class="lg" style="left:240.8px;top:241.0px;font-size:12.5px;color:#3b8c3b;">2206750.00</div>
<div class="lg" style="left:315.5px;top:241.0px;font-size:12.5px;color:#5a5e66;">不適用</div>
<div class="lg" style="left:96px;top:480.5px;font-size:12.5px;color:#5a5e66;">KD (14, 1, 3)</div>
<div class="lg" style="left:244.9px;top:480.5px;font-size:12.5px;color:#2b2bd0;">90.88</div>
<div class="lg" style="left:286px;top:480.5px;font-size:12.5px;color:#e02a3a;">95.12</div>
<div class="lg" style="left:96px;top:613.3px;font-size:12.5px;color:#5a5e66;">MACD (12, 26, close, 9)</div>
<div class="lg" style="left:306.6px;top:613.3px;font-size:12.5px;color:#e02a3a;">5.40</div>
<div class="lg" style="left:341.2px;top:613.3px;font-size:12.5px;color:#2b2bd0;">12.26</div>
<div class="lg" style="left:380.9px;top:613.3px;font-size:12.5px;color:#e02a3a;">6.87</div>
<svg width="1205" height="767" viewBox="0 0 1205 767" style="position:absolute;left:0;top:0">
<rect x="96.5" y="217.5" width="12" height="12" rx="1.5" fill="none" stroke="#555" stroke-width="1.1"/><line x1="98.5" y1="223.5" x2="106.5" y2="223.5" stroke="#555" stroke-width="1.1"/>
<path d="M323.5 222.2 L326.5 225.2 L329.5 222.2" stroke="#333" stroke-width="1.3" fill="none"/>
<path d="M169.5 249.0 L172.5 252.0 L175.5 249.0" stroke="#333" stroke-width="1.3" fill="none"/>
<rect x="189" y="241.8" width="17.5" height="16.4" rx="1.6" fill="#c6c8cc"/><polygon points="204.15,250.00 204.03,251.25 202.09,251.80 201.66,252.61 202.28,254.53 201.31,255.32 199.55,254.34 198.67,254.61 197.75,256.40 196.50,256.28 195.95,254.34 195.14,253.91 193.22,254.53 192.43,253.56 193.41,251.80 193.14,250.92 191.35,250.00 191.47,248.75 193.41,248.20 193.84,247.39 193.22,245.47 194.19,244.68 195.95,245.66 196.83,245.39 197.75,243.60 199.00,243.72 199.55,245.66 200.36,246.09 202.28,245.47 203.07,246.44 202.09,248.20 202.36,249.08" fill="#fff"/><circle cx="197.75" cy="250" r="2.1" fill="#c6c8cc"/>
<rect x="215.4" y="241.8" width="17.19999999999999" height="16.4" rx="1.6" fill="#c6c8cc"/><path d="M218.4 244.4 L229.6 255.6 M229.6 244.4 L218.4 255.6" stroke="#fff" stroke-width="2.6" stroke-linecap="round"/>
<path d="M175 488.5 L178 491.5 L181 488.5" stroke="#333" stroke-width="1.3" fill="none"/>
<rect x="193" y="481.3" width="17.69999999999999" height="16.4" rx="1.6" fill="#c6c8cc"/><polygon points="208.25,489.50 208.13,490.75 206.19,491.30 205.76,492.11 206.38,494.03 205.41,494.82 203.65,493.84 202.77,494.11 201.85,495.90 200.60,495.78 200.05,493.84 199.24,493.41 197.32,494.03 196.53,493.06 197.51,491.30 197.24,490.42 195.45,489.50 195.57,488.25 197.51,487.70 197.94,486.89 197.32,484.97 198.29,484.18 200.05,485.16 200.93,484.89 201.85,483.10 203.10,483.22 203.65,485.16 204.46,485.59 206.38,484.97 207.17,485.94 206.19,487.70 206.46,488.58" fill="#fff"/><circle cx="201.85" cy="489.5" r="2.1" fill="#c6c8cc"/>
<rect x="218.6" y="481.3" width="17.599999999999994" height="16.4" rx="1.6" fill="#c6c8cc"/><path d="M221.79999999999998 483.9 L232.99999999999997 495.1 M232.99999999999997 483.9 L221.79999999999998 495.1" stroke="#fff" stroke-width="2.6" stroke-linecap="round"/>
<path d="M238 621.3 L241 624.3 L244 621.3" stroke="#333" stroke-width="1.3" fill="none"/>
<rect x="255.6" y="614.0999999999999" width="17.200000000000017" height="16.4" rx="1.6" fill="#c6c8cc"/><polygon points="270.60,622.30 270.48,623.55 268.54,624.10 268.11,624.91 268.73,626.83 267.76,627.62 266.00,626.64 265.12,626.91 264.20,628.70 262.95,628.58 262.40,626.64 261.59,626.21 259.67,626.83 258.88,625.86 259.86,624.10 259.59,623.22 257.80,622.30 257.92,621.05 259.86,620.50 260.29,619.69 259.67,617.77 260.64,616.98 262.40,617.96 263.28,617.69 264.20,615.90 265.45,616.02 266.00,617.96 266.81,618.39 268.73,617.77 269.52,618.74 268.54,620.50 268.81,621.38" fill="#fff"/><circle cx="264.2" cy="622.3" r="2.1" fill="#c6c8cc"/>
<rect x="281.4" y="614.0999999999999" width="17.30000000000001" height="16.4" rx="1.6" fill="#c6c8cc"/><path d="M284.44999999999993 616.6999999999999 L295.65 627.9 M295.65 616.6999999999999 L284.44999999999993 627.9" stroke="#fff" stroke-width="2.6" stroke-linecap="round"/>
</svg>
</body></html>
